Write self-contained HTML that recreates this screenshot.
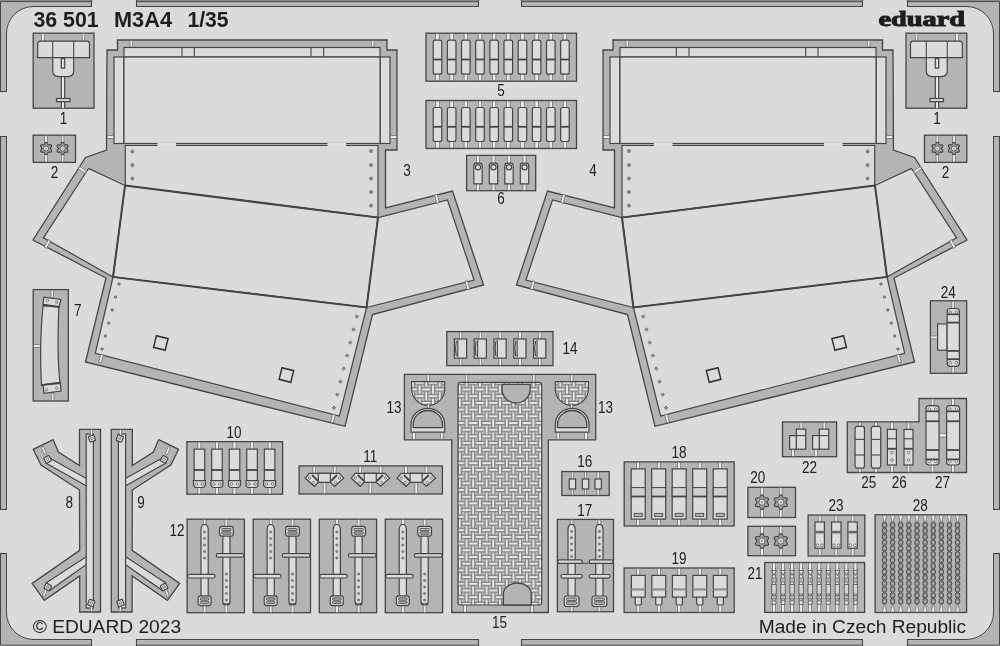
<!DOCTYPE html><html><head><meta charset="utf-8"><style>html,body{margin:0;padding:0;background:#d9dcdb;overflow:hidden}svg{display:block}
text{font-family:"Liberation Sans",sans-serif;fill:#1e1e1e}
.fr{fill:#b3b5b4;stroke:#454545;stroke-width:1}
.car{fill:#b3b5b4;stroke:#454545;stroke-width:1.3}
.prt{fill:#d9dcdb;stroke:#454545;stroke-width:1.2}.prt2{fill:#d9dcdb;stroke:#454545;stroke-width:1.2}.fold{fill:none;stroke:#454545;stroke-width:2}
.prt3{fill:#cfcfcf;stroke:#454545;stroke-width:1}
.ln{stroke:#454545;stroke-width:1.1;fill:none}.thk{stroke:#454545;stroke-width:1.8}
.wl{stroke:#ececec;stroke-width:1.4}.gt2{fill:#e2e4e3;stroke:none}
.gt{fill:#ececec;stroke:#5a5a5a;stroke-width:0.6}
.dk{fill:#8f8f8f;stroke:none}.dk2{fill:#6a6a6a;stroke:none}.slot{fill:#b8b8b8;stroke:#454545;stroke-width:0.9}
.rv{fill:#8c8c8c;stroke:#5a5a5a;stroke-width:0.6}.rvo{fill:#9a9a9a;stroke:#555;stroke-width:0.7}.hole{fill:#f0f0f0;stroke:#555;stroke-width:0.7}
.sq{fill:none;stroke:#333;stroke-width:1.5}
.gear{fill:#a0a0a0;stroke:#444;stroke-width:1.1}.gring{fill:#e4e4e4;stroke:#555;stroke-width:0.9}.gdot{fill:#999}
.mesh{fill:url(#mesh);stroke:#454545;stroke-width:1.1}
.eye{fill:#e0e0e0;stroke:#555;stroke-width:0.8}.eye2{fill:#b8b8b8;stroke:#555;stroke-width:0.7}.eye3{fill:#d4d4d4;stroke:#555;stroke-width:0.8}.thin{stroke:#666;stroke-width:0.6}.linkc{fill:#c8c8c8}.link{fill:#8e8e8e;stroke:#444;stroke-width:0.9}
</style></head><body>
<svg width="1000" height="646" viewBox="0 0 1000 646">
<defs><pattern id="mesh" x="466.5" y="456.5" width="13.4" height="13.4" patternUnits="userSpaceOnUse"><rect width="13.4" height="13.4" fill="#858585"/><circle cx="3.35" cy="3.35" r="2.05" fill="#bababa" stroke="#5a5a5a" stroke-width="0.5"/><circle cx="3.35" cy="10.05" r="2.05" fill="#bababa" stroke="#5a5a5a" stroke-width="0.5"/><circle cx="10.05" cy="3.35" r="2.05" fill="#bababa" stroke="#5a5a5a" stroke-width="0.5"/><circle cx="10.05" cy="10.05" r="2.05" fill="#bababa" stroke="#5a5a5a" stroke-width="0.5"/><rect x="-4.25" y="-0.85" width="8.5" height="1.7" fill="#f4f4f4"/><rect x="-4.25" y="12.55" width="8.5" height="1.7" fill="#f4f4f4"/><rect x="9.15" y="-0.85" width="8.5" height="1.7" fill="#f4f4f4"/><rect x="9.15" y="12.55" width="8.5" height="1.7" fill="#f4f4f4"/><rect x="2.45" y="5.85" width="8.5" height="1.7" fill="#f4f4f4"/><rect x="5.85" y="-4.25" width="1.7" height="8.5" fill="#f4f4f4"/><rect x="5.85" y="9.15" width="1.7" height="8.5" fill="#f4f4f4"/><rect x="-0.85" y="2.45" width="1.7" height="8.5" fill="#f4f4f4"/><rect x="12.55" y="2.45" width="1.7" height="8.5" fill="#f4f4f4"/></pattern></defs>
<rect width="1000" height="646" fill="#d9dcdb"/>
<rect x="0" y="0" width="1000" height="1.2" fill="#8a8a8a"/>
<path class="fr" fill-rule="evenodd" d="M0.5,1.6H999.5V645.2H0.5Z M33,6.5 H967 A27,27 0 0 1 993.5,33.5 V612 A27,27 0 0 1 967,639.5 H33 A27,27 0 0 1 6.5,612 V33.5 A27,27 0 0 1 33,6.5Z"/>
<rect x="91" y="-1" width="46" height="9" fill="#d9dcdb"/>
<rect x="91" y="638" width="46" height="10" fill="#d9dcdb"/>
<line class="ln" x1="91.5" y1="0" x2="91.5" y2="7" />
<line class="ln" x1="91.5" y1="639" x2="91.5" y2="646" />
<line class="ln" x1="136.5" y1="0" x2="136.5" y2="7" />
<line class="ln" x1="136.5" y1="639" x2="136.5" y2="646" />
<rect x="478" y="-1" width="44" height="9" fill="#d9dcdb"/>
<rect x="478" y="638" width="44" height="10" fill="#d9dcdb"/>
<line class="ln" x1="478.5" y1="0" x2="478.5" y2="7" />
<line class="ln" x1="478.5" y1="639" x2="478.5" y2="646" />
<line class="ln" x1="521.5" y1="0" x2="521.5" y2="7" />
<line class="ln" x1="521.5" y1="639" x2="521.5" y2="646" />
<rect x="862" y="-1" width="46" height="9" fill="#d9dcdb"/>
<rect x="862" y="638" width="46" height="10" fill="#d9dcdb"/>
<line class="ln" x1="862.5" y1="0" x2="862.5" y2="7" />
<line class="ln" x1="862.5" y1="639" x2="862.5" y2="646" />
<line class="ln" x1="907.5" y1="0" x2="907.5" y2="7" />
<line class="ln" x1="907.5" y1="639" x2="907.5" y2="646" />
<rect x="-1" y="91" width="8" height="46" fill="#d9dcdb"/>
<rect x="993" y="91" width="8" height="46" fill="#d9dcdb"/>
<line class="ln" x1="0" y1="91.5" x2="7" y2="91.5" />
<line class="ln" x1="993" y1="91.5" x2="1000" y2="91.5" />
<line class="ln" x1="0" y1="136.5" x2="7" y2="136.5" />
<line class="ln" x1="993" y1="136.5" x2="1000" y2="136.5" />
<rect x="-1" y="509" width="8" height="45" fill="#d9dcdb"/>
<rect x="993" y="509" width="8" height="45" fill="#d9dcdb"/>
<line class="ln" x1="0" y1="509.5" x2="7" y2="509.5" />
<line class="ln" x1="993" y1="509.5" x2="1000" y2="509.5" />
<line class="ln" x1="0" y1="553.5" x2="7" y2="553.5" />
<line class="ln" x1="993" y1="553.5" x2="1000" y2="553.5" />
<rect class="car" x="33.2" y="33.2" width="60.8" height="75" />
<rect class="gt" x="41.7" y="33.5" width="2.6" height="8.5" />
<rect class="gt" x="82.2" y="33.5" width="2.6" height="8.5" />
<path class="prt" d="M37.7,57.7 V44 Q37.7,41.2 40.5,41.2 H86.7 Q89.5,41.2 89.5,44 V57.7 Z" />
<line class="ln" x1="52.7" y1="41.2" x2="52.7" y2="57.7" />
<line class="ln" x1="73.7" y1="41.2" x2="73.7" y2="57.7" />
<rect class="gt" x="61.4" y="76" width="3.2" height="32.2" />
<line class="ln" x1="61.3" y1="77" x2="61.3" y2="108" />
<line class="ln" x1="64.7" y1="77" x2="64.7" y2="108" />
<rect class="prt" x="56.5" y="98.5" width="13.5" height="3.1" />
<path class="prt" d="M52.7,57.7 H73.7 V71 Q73.7,76.7 67,76.7 H59.4 Q52.7,76.7 52.7,71 Z" />
<rect class="prt" x="61.3" y="58.5" width="3.4" height="9.5" />
<g transform="translate(1000,0) scale(-1,1)"><rect class="car" x="33.2" y="33.2" width="60.8" height="75" />
<rect class="gt" x="41.7" y="33.5" width="2.6" height="8.5" />
<rect class="gt" x="82.2" y="33.5" width="2.6" height="8.5" />
<path class="prt" d="M37.7,57.7 V44 Q37.7,41.2 40.5,41.2 H86.7 Q89.5,41.2 89.5,44 V57.7 Z" />
<line class="ln" x1="52.7" y1="41.2" x2="52.7" y2="57.7" />
<line class="ln" x1="73.7" y1="41.2" x2="73.7" y2="57.7" />
<rect class="gt" x="61.4" y="76" width="3.2" height="32.2" />
<line class="ln" x1="61.3" y1="77" x2="61.3" y2="108" />
<line class="ln" x1="64.7" y1="77" x2="64.7" y2="108" />
<rect class="prt" x="56.5" y="98.5" width="13.5" height="3.1" />
<path class="prt" d="M52.7,57.7 H73.7 V71 Q73.7,76.7 67,76.7 H59.4 Q52.7,76.7 52.7,71 Z" />
<rect class="prt" x="61.3" y="58.5" width="3.4" height="9.5" /></g>
<rect class="car" x="33.2" y="135.2" width="42.3" height="27.2" />
<rect class="gt" x="44.8" y="135.6" width="2.6" height="26.4" />
<polygon class="gear" points="46.1,142.3 46.87,142.64 47.45,143.47 47.82,144.34 48.21,144.85 48.84,144.92 49.78,144.82 50.79,144.9 51.47,145.4 51.56,146.24 51.13,147.15 50.57,147.91 50.32,148.5 50.57,149.09 51.13,149.85 51.56,150.76 51.47,151.6 50.79,152.1 49.78,152.18 48.84,152.08 48.21,152.15 47.82,152.66 47.45,153.53 46.87,154.36 46.1,154.7 45.33,154.36 44.75,153.53 44.38,152.66 43.99,152.15 43.36,152.08 42.42,152.18 41.41,152.1 40.73,151.6 40.64,150.76 41.07,149.85 41.63,149.09 41.88,148.5 41.63,147.91 41.07,147.15 40.64,146.24 40.73,145.4 41.41,144.9 42.42,144.82 43.36,144.92 43.99,144.85 44.38,144.34 44.75,143.47 45.33,142.64" /><circle class="gring" cx="46.1" cy="148.5" r="2.6"/><circle class="gdot" cx="46.1" cy="148.5" r="0.99"/>
<rect class="gt" x="61.3" y="135.6" width="2.6" height="26.4" />
<polygon class="gear" points="62.6,142.3 63.37,142.64 63.95,143.47 64.32,144.34 64.71,144.85 65.34,144.92 66.28,144.82 67.29,144.9 67.97,145.4 68.06,146.24 67.63,147.15 67.07,147.91 66.82,148.5 67.07,149.09 67.63,149.85 68.06,150.76 67.97,151.6 67.29,152.1 66.28,152.18 65.34,152.08 64.71,152.15 64.32,152.66 63.95,153.53 63.37,154.36 62.6,154.7 61.83,154.36 61.25,153.53 60.88,152.66 60.49,152.15 59.86,152.08 58.92,152.18 57.91,152.1 57.23,151.6 57.14,150.76 57.57,149.85 58.13,149.09 58.38,148.5 58.13,147.91 57.57,147.15 57.14,146.24 57.23,145.4 57.91,144.9 58.92,144.82 59.86,144.92 60.49,144.85 60.88,144.34 61.25,143.47 61.83,142.64" /><circle class="gring" cx="62.6" cy="148.5" r="2.6"/><circle class="gdot" cx="62.6" cy="148.5" r="0.99"/>
<g transform="translate(1000,0) scale(-1,1)"><rect class="car" x="33.2" y="135.2" width="42.3" height="27.2" />
<rect class="gt" x="44.8" y="135.6" width="2.6" height="26.4" />
<polygon class="gear" points="46.1,142.3 46.87,142.64 47.45,143.47 47.82,144.34 48.21,144.85 48.84,144.92 49.78,144.82 50.79,144.9 51.47,145.4 51.56,146.24 51.13,147.15 50.57,147.91 50.32,148.5 50.57,149.09 51.13,149.85 51.56,150.76 51.47,151.6 50.79,152.1 49.78,152.18 48.84,152.08 48.21,152.15 47.82,152.66 47.45,153.53 46.87,154.36 46.1,154.7 45.33,154.36 44.75,153.53 44.38,152.66 43.99,152.15 43.36,152.08 42.42,152.18 41.41,152.1 40.73,151.6 40.64,150.76 41.07,149.85 41.63,149.09 41.88,148.5 41.63,147.91 41.07,147.15 40.64,146.24 40.73,145.4 41.41,144.9 42.42,144.82 43.36,144.92 43.99,144.85 44.38,144.34 44.75,143.47 45.33,142.64" /><circle class="gring" cx="46.1" cy="148.5" r="2.6"/><circle class="gdot" cx="46.1" cy="148.5" r="0.99"/>
<rect class="gt" x="61.3" y="135.6" width="2.6" height="26.4" />
<polygon class="gear" points="62.6,142.3 63.37,142.64 63.95,143.47 64.32,144.34 64.71,144.85 65.34,144.92 66.28,144.82 67.29,144.9 67.97,145.4 68.06,146.24 67.63,147.15 67.07,147.91 66.82,148.5 67.07,149.09 67.63,149.85 68.06,150.76 67.97,151.6 67.29,152.1 66.28,152.18 65.34,152.08 64.71,152.15 64.32,152.66 63.95,153.53 63.37,154.36 62.6,154.7 61.83,154.36 61.25,153.53 60.88,152.66 60.49,152.15 59.86,152.08 58.92,152.18 57.91,152.1 57.23,151.6 57.14,150.76 57.57,149.85 58.13,149.09 58.38,148.5 58.13,147.91 57.57,147.15 57.14,146.24 57.23,145.4 57.91,144.9 58.92,144.82 59.86,144.92 60.49,144.85 60.88,144.34 61.25,143.47 61.83,142.64" /><circle class="gring" cx="62.6" cy="148.5" r="2.6"/><circle class="gdot" cx="62.6" cy="148.5" r="0.99"/></g>
<polygon class="car" points="107,50 117.5,50 117.5,40 387,40 387,50 397,50 397,150 385.5,150 385.5,208 452.5,191 483.5,285 372.5,314.5 345,426.3 85.5,362 106,278 33,240 85.5,157.5 106.5,150" />
<rect class="prt" x="124" y="47.5" width="256" height="9.5" />
<rect class="prt" x="114" y="57" width="10" height="86.5" />
<rect class="prt" x="380" y="57" width="10" height="86.5" />
<rect class="prt" x="124" y="57" width="256" height="86.5" />
<line class="ln" x1="182" y1="47.5" x2="182" y2="57" />
<line class="ln" x1="194.3" y1="47.5" x2="194.3" y2="57" />
<line class="ln" x1="311" y1="47.5" x2="311" y2="57" />
<line class="ln" x1="323.7" y1="47.5" x2="323.7" y2="57" />
<polygon class="prt" points="125.3,145.5 378,145.5 378,217.6 125.3,185.5" />
<polygon class="prt2" points="125,185.5 378,217.6 366.6,307.5 113,277" />
<polygon class="prt" points="113,277 366.6,307.5 339.4,416 95.3,353.4" />
<polygon class="prt" points="88.5,168.4 125,185.5 113,277 43.4,237.8" />
<polygon class="prt" points="378,217.6 447.5,200 474.2,280.2 366.6,307.5" />
<polygon class="fold" points="125,185.5 378,217.6 366.6,307.5 113,277" />
<rect class="gt" x="130" y="40.45" width="2.6" height="6.5" transform="rotate(0 131.3 43.7)"/>
<rect class="gt" x="371.4" y="40.45" width="2.6" height="6.5" transform="rotate(0 372.7 43.7)"/>
<rect class="gt" x="107.25" y="135.7" width="6.5" height="2.6" transform="rotate(0 110.5 137)"/>
<rect class="gt" x="390.25" y="135.7" width="6.5" height="2.6" transform="rotate(0 393.5 137)"/>
<rect class="gt" x="81.2" y="165.75" width="2.6" height="8.5" transform="rotate(-57.5 82.5 170)"/>
<rect class="gt" x="46.2" y="239.75" width="2.6" height="8.5" transform="rotate(27.5 47.5 244)"/>
<rect class="gt" x="435.7" y="194.55" width="2.6" height="8.5" transform="rotate(-14 437 198.8)"/>
<rect class="gt" x="466" y="280.95" width="2.6" height="8.5" transform="rotate(-15 467.3 285.2)"/>
<rect class="gt" x="99.7" y="354.25" width="2.6" height="8.5" transform="rotate(14 101 358.5)"/>
<rect class="gt" x="331.7" y="414.25" width="2.6" height="8.5" transform="rotate(14 333 418.5)"/>
<rect class="gt2" x="157.5" y="143" width="18.5" height="3" />
<rect class="gt2" x="327.5" y="143" width="18.5" height="3" />
<circle class="rv" cx="132.4" cy="151.5" r="1.55"/>
<circle class="rv" cx="132.4" cy="165" r="1.55"/>
<circle class="rv" cx="132.4" cy="178.5" r="1.55"/>
<circle class="rv" cx="371" cy="151" r="1.55"/>
<circle class="rv" cx="371" cy="165" r="1.55"/>
<circle class="rv" cx="371" cy="178.5" r="1.55"/>
<circle class="rv" cx="371" cy="192" r="1.55"/>
<circle class="rv" cx="371" cy="205.6" r="1.55"/>
<circle class="rv" cx="119" cy="284" r="1.3"/>
<circle class="rv" cx="115.6" cy="297" r="1.3"/>
<circle class="rv" cx="112.2" cy="310" r="1.3"/>
<circle class="rv" cx="108.8" cy="323" r="1.3"/>
<circle class="rv" cx="105.4" cy="336" r="1.3"/>
<circle class="rv" cx="102" cy="349" r="1.3"/>
<rect class="rvo" x="-1.2" y="-1.2" width="2.4" height="2.4" transform="translate(356.8 316.5) rotate(45)"/>
<rect class="rvo" x="-1.2" y="-1.2" width="2.4" height="2.4" transform="translate(353.54 329.53) rotate(45)"/>
<rect class="rvo" x="-1.2" y="-1.2" width="2.4" height="2.4" transform="translate(350.29 342.56) rotate(45)"/>
<rect class="rvo" x="-1.2" y="-1.2" width="2.4" height="2.4" transform="translate(347.03 355.59) rotate(45)"/>
<rect class="rvo" x="-1.2" y="-1.2" width="2.4" height="2.4" transform="translate(343.77 368.61) rotate(45)"/>
<rect class="rvo" x="-1.2" y="-1.2" width="2.4" height="2.4" transform="translate(340.51 381.64) rotate(45)"/>
<rect class="rvo" x="-1.2" y="-1.2" width="2.4" height="2.4" transform="translate(337.26 394.67) rotate(45)"/>
<rect class="rvo" x="-1.2" y="-1.2" width="2.4" height="2.4" transform="translate(334 407.7) rotate(45)"/>
<rect class="sq" x="154.8" y="337" width="12" height="12" transform="rotate(14 160.8 343)"/>
<rect class="sq" x="280.4" y="369" width="12" height="12" transform="rotate(14 286.4 375)"/>
<g transform="translate(1000,0) scale(-1,1)"><polygon class="car" points="107,50 117.5,50 117.5,40 387,40 387,50 397,50 397,150 385.5,150 385.5,208 452.5,191 483.5,285 372.5,314.5 345,426.3 85.5,362 106,278 33,240 85.5,157.5 106.5,150" />
<rect class="prt" x="124" y="47.5" width="256" height="9.5" />
<rect class="prt" x="114" y="57" width="10" height="86.5" />
<rect class="prt" x="380" y="57" width="10" height="86.5" />
<rect class="prt" x="124" y="57" width="256" height="86.5" />
<line class="ln" x1="182" y1="47.5" x2="182" y2="57" />
<line class="ln" x1="194.3" y1="47.5" x2="194.3" y2="57" />
<line class="ln" x1="311" y1="47.5" x2="311" y2="57" />
<line class="ln" x1="323.7" y1="47.5" x2="323.7" y2="57" />
<polygon class="prt" points="125.3,145.5 378,145.5 378,217.6 125.3,185.5" />
<polygon class="prt2" points="125,185.5 378,217.6 366.6,307.5 113,277" />
<polygon class="prt" points="113,277 366.6,307.5 339.4,416 95.3,353.4" />
<polygon class="prt" points="88.5,168.4 125,185.5 113,277 43.4,237.8" />
<polygon class="prt" points="378,217.6 447.5,200 474.2,280.2 366.6,307.5" />
<polygon class="fold" points="125,185.5 378,217.6 366.6,307.5 113,277" />
<rect class="gt" x="130" y="40.45" width="2.6" height="6.5" transform="rotate(0 131.3 43.7)"/>
<rect class="gt" x="371.4" y="40.45" width="2.6" height="6.5" transform="rotate(0 372.7 43.7)"/>
<rect class="gt" x="107.25" y="135.7" width="6.5" height="2.6" transform="rotate(0 110.5 137)"/>
<rect class="gt" x="390.25" y="135.7" width="6.5" height="2.6" transform="rotate(0 393.5 137)"/>
<rect class="gt" x="81.2" y="165.75" width="2.6" height="8.5" transform="rotate(-57.5 82.5 170)"/>
<rect class="gt" x="46.2" y="239.75" width="2.6" height="8.5" transform="rotate(27.5 47.5 244)"/>
<rect class="gt" x="435.7" y="194.55" width="2.6" height="8.5" transform="rotate(-14 437 198.8)"/>
<rect class="gt" x="466" y="280.95" width="2.6" height="8.5" transform="rotate(-15 467.3 285.2)"/>
<rect class="gt" x="99.7" y="354.25" width="2.6" height="8.5" transform="rotate(14 101 358.5)"/>
<rect class="gt" x="331.7" y="414.25" width="2.6" height="8.5" transform="rotate(14 333 418.5)"/>
<rect class="gt2" x="157.5" y="143" width="18.5" height="3" />
<rect class="gt2" x="327.5" y="143" width="18.5" height="3" />
<circle class="rv" cx="132.4" cy="151.5" r="1.55"/>
<circle class="rv" cx="132.4" cy="165" r="1.55"/>
<circle class="rv" cx="132.4" cy="178.5" r="1.55"/>
<circle class="rv" cx="371" cy="151" r="1.55"/>
<circle class="rv" cx="371" cy="165" r="1.55"/>
<circle class="rv" cx="371" cy="178.5" r="1.55"/>
<circle class="rv" cx="371" cy="192" r="1.55"/>
<circle class="rv" cx="371" cy="205.6" r="1.55"/>
<circle class="rv" cx="119" cy="284" r="1.3"/>
<circle class="rv" cx="115.6" cy="297" r="1.3"/>
<circle class="rv" cx="112.2" cy="310" r="1.3"/>
<circle class="rv" cx="108.8" cy="323" r="1.3"/>
<circle class="rv" cx="105.4" cy="336" r="1.3"/>
<circle class="rv" cx="102" cy="349" r="1.3"/>
<rect class="rvo" x="-1.2" y="-1.2" width="2.4" height="2.4" transform="translate(356.8 316.5) rotate(45)"/>
<rect class="rvo" x="-1.2" y="-1.2" width="2.4" height="2.4" transform="translate(353.54 329.53) rotate(45)"/>
<rect class="rvo" x="-1.2" y="-1.2" width="2.4" height="2.4" transform="translate(350.29 342.56) rotate(45)"/>
<rect class="rvo" x="-1.2" y="-1.2" width="2.4" height="2.4" transform="translate(347.03 355.59) rotate(45)"/>
<rect class="rvo" x="-1.2" y="-1.2" width="2.4" height="2.4" transform="translate(343.77 368.61) rotate(45)"/>
<rect class="rvo" x="-1.2" y="-1.2" width="2.4" height="2.4" transform="translate(340.51 381.64) rotate(45)"/>
<rect class="rvo" x="-1.2" y="-1.2" width="2.4" height="2.4" transform="translate(337.26 394.67) rotate(45)"/>
<rect class="rvo" x="-1.2" y="-1.2" width="2.4" height="2.4" transform="translate(334 407.7) rotate(45)"/>
<rect class="sq" x="154.8" y="337" width="12" height="12" transform="rotate(14 160.8 343)"/>
<rect class="sq" x="280.4" y="369" width="12" height="12" transform="rotate(14 286.4 375)"/></g>
<rect class="car" x="426" y="33.2" width="150.5" height="48" />
<rect class="gt" x="435.8" y="33.7" width="3.4" height="7.5" />
<rect class="gt" x="435.8" y="73.2" width="3.4" height="7.5" />
<rect class="prt" x="433.2" y="40.2" width="8.6" height="34" rx="2" />
<line class="thk" x1="433.2" y1="59.5" x2="441.8" y2="59.5" />
<rect class="gt" x="449.96" y="33.7" width="3.4" height="7.5" />
<rect class="gt" x="449.96" y="73.2" width="3.4" height="7.5" />
<rect class="prt" x="447.36" y="40.2" width="8.6" height="34" rx="2" />
<line class="thk" x1="447.36" y1="59.5" x2="455.96" y2="59.5" />
<rect class="gt" x="464.12" y="33.7" width="3.4" height="7.5" />
<rect class="gt" x="464.12" y="73.2" width="3.4" height="7.5" />
<rect class="prt" x="461.52" y="40.2" width="8.6" height="34" rx="2" />
<line class="thk" x1="461.52" y1="59.5" x2="470.12" y2="59.5" />
<rect class="gt" x="478.28" y="33.7" width="3.4" height="7.5" />
<rect class="gt" x="478.28" y="73.2" width="3.4" height="7.5" />
<rect class="prt" x="475.68" y="40.2" width="8.6" height="34" rx="2" />
<line class="thk" x1="475.68" y1="59.5" x2="484.28" y2="59.5" />
<rect class="gt" x="492.44" y="33.7" width="3.4" height="7.5" />
<rect class="gt" x="492.44" y="73.2" width="3.4" height="7.5" />
<rect class="prt" x="489.84" y="40.2" width="8.6" height="34" rx="2" />
<line class="thk" x1="489.84" y1="59.5" x2="498.44" y2="59.5" />
<rect class="gt" x="506.6" y="33.7" width="3.4" height="7.5" />
<rect class="gt" x="506.6" y="73.2" width="3.4" height="7.5" />
<rect class="prt" x="504" y="40.2" width="8.6" height="34" rx="2" />
<line class="thk" x1="504" y1="59.5" x2="512.6" y2="59.5" />
<rect class="gt" x="520.76" y="33.7" width="3.4" height="7.5" />
<rect class="gt" x="520.76" y="73.2" width="3.4" height="7.5" />
<rect class="prt" x="518.16" y="40.2" width="8.6" height="34" rx="2" />
<line class="thk" x1="518.16" y1="59.5" x2="526.76" y2="59.5" />
<rect class="gt" x="534.92" y="33.7" width="3.4" height="7.5" />
<rect class="gt" x="534.92" y="73.2" width="3.4" height="7.5" />
<rect class="prt" x="532.32" y="40.2" width="8.6" height="34" rx="2" />
<line class="thk" x1="532.32" y1="59.5" x2="540.92" y2="59.5" />
<rect class="gt" x="549.08" y="33.7" width="3.4" height="7.5" />
<rect class="gt" x="549.08" y="73.2" width="3.4" height="7.5" />
<rect class="prt" x="546.48" y="40.2" width="8.6" height="34" rx="2" />
<line class="thk" x1="546.48" y1="59.5" x2="555.08" y2="59.5" />
<rect class="gt" x="563.24" y="33.7" width="3.4" height="7.5" />
<rect class="gt" x="563.24" y="73.2" width="3.4" height="7.5" />
<rect class="prt" x="560.64" y="40.2" width="8.6" height="34" rx="2" />
<line class="thk" x1="560.64" y1="59.5" x2="569.24" y2="59.5" />
<rect class="car" x="426" y="100.5" width="150.5" height="48" />
<rect class="gt" x="435.8" y="101" width="3.4" height="7.5" />
<rect class="gt" x="435.8" y="140.5" width="3.4" height="7.5" />
<rect class="prt" x="433.2" y="107.5" width="8.6" height="34" rx="2" />
<line class="thk" x1="433.2" y1="126.8" x2="441.8" y2="126.8" />
<rect class="gt" x="449.96" y="101" width="3.4" height="7.5" />
<rect class="gt" x="449.96" y="140.5" width="3.4" height="7.5" />
<rect class="prt" x="447.36" y="107.5" width="8.6" height="34" rx="2" />
<line class="thk" x1="447.36" y1="126.8" x2="455.96" y2="126.8" />
<rect class="gt" x="464.12" y="101" width="3.4" height="7.5" />
<rect class="gt" x="464.12" y="140.5" width="3.4" height="7.5" />
<rect class="prt" x="461.52" y="107.5" width="8.6" height="34" rx="2" />
<line class="thk" x1="461.52" y1="126.8" x2="470.12" y2="126.8" />
<rect class="gt" x="478.28" y="101" width="3.4" height="7.5" />
<rect class="gt" x="478.28" y="140.5" width="3.4" height="7.5" />
<rect class="prt" x="475.68" y="107.5" width="8.6" height="34" rx="2" />
<line class="thk" x1="475.68" y1="126.8" x2="484.28" y2="126.8" />
<rect class="gt" x="492.44" y="101" width="3.4" height="7.5" />
<rect class="gt" x="492.44" y="140.5" width="3.4" height="7.5" />
<rect class="prt" x="489.84" y="107.5" width="8.6" height="34" rx="2" />
<line class="thk" x1="489.84" y1="126.8" x2="498.44" y2="126.8" />
<rect class="gt" x="506.6" y="101" width="3.4" height="7.5" />
<rect class="gt" x="506.6" y="140.5" width="3.4" height="7.5" />
<rect class="prt" x="504" y="107.5" width="8.6" height="34" rx="2" />
<line class="thk" x1="504" y1="126.8" x2="512.6" y2="126.8" />
<rect class="gt" x="520.76" y="101" width="3.4" height="7.5" />
<rect class="gt" x="520.76" y="140.5" width="3.4" height="7.5" />
<rect class="prt" x="518.16" y="107.5" width="8.6" height="34" rx="2" />
<line class="thk" x1="518.16" y1="126.8" x2="526.76" y2="126.8" />
<rect class="gt" x="534.92" y="101" width="3.4" height="7.5" />
<rect class="gt" x="534.92" y="140.5" width="3.4" height="7.5" />
<rect class="prt" x="532.32" y="107.5" width="8.6" height="34" rx="2" />
<line class="thk" x1="532.32" y1="126.8" x2="540.92" y2="126.8" />
<rect class="gt" x="549.08" y="101" width="3.4" height="7.5" />
<rect class="gt" x="549.08" y="140.5" width="3.4" height="7.5" />
<rect class="prt" x="546.48" y="107.5" width="8.6" height="34" rx="2" />
<line class="thk" x1="546.48" y1="126.8" x2="555.08" y2="126.8" />
<rect class="gt" x="563.24" y="101" width="3.4" height="7.5" />
<rect class="gt" x="563.24" y="140.5" width="3.4" height="7.5" />
<rect class="prt" x="560.64" y="107.5" width="8.6" height="34" rx="2" />
<line class="thk" x1="560.64" y1="126.8" x2="569.24" y2="126.8" />
<rect class="car" x="466.6" y="155.4" width="69.1" height="35.3" />
<rect class="gt" x="476.5" y="155.8" width="3" height="34.5" />
<path class="prt" d="M473.8,166 Q473.8,163.2 476,163.2 H480 Q482.2,163.2 482.2,166 V183.8 H473.8 Z" />
<circle class="prt" cx="478" cy="167.2" r="2.6"/>
<rect class="gt" x="492" y="155.8" width="3" height="34.5" />
<path class="prt" d="M489.3,166 Q489.3,163.2 491.5,163.2 H495.5 Q497.7,163.2 497.7,166 V183.8 H489.3 Z" />
<circle class="prt" cx="493.5" cy="167.2" r="2.6"/>
<rect class="gt" x="507.5" y="155.8" width="3" height="34.5" />
<path class="prt" d="M504.8,166 Q504.8,163.2 507,163.2 H511 Q513.2,163.2 513.2,166 V183.8 H504.8 Z" />
<circle class="prt" cx="509" cy="167.2" r="2.6"/>
<rect class="gt" x="523" y="155.8" width="3" height="34.5" />
<path class="prt" d="M520.3,166 Q520.3,163.2 522.5,163.2 H526.5 Q528.7,163.2 528.7,166 V183.8 H520.3 Z" />
<circle class="prt" cx="524.5" cy="167.2" r="2.6"/>
<rect class="car" x="33.2" y="289.6" width="35.1" height="111.4" />
<rect class="gt" x="51" y="290" width="2.6" height="8" />
<rect class="gt" x="51.3" y="393" width="2.6" height="7.5" />
<rect class="gt" x="33.6" y="344.6" width="8.4" height="2.6" />
<path class="prt" d="M43,306 C40,335 40,360 41.5,385.7 L60,383.4 C57.5,360 57.5,335 59,306 Z" />
<path class="prt" d="M43.8,297.2 L61,299.4 L59,306.6 L43,304.4 Z" />
<path class="prt" d="M43,384.6 L60.3,382.4 L61,391 L44,393.3 Z" />
<circle class="hole" cx="47.4" cy="300.6" r="1.2"/>
<circle class="hole" cx="56.8" cy="302" r="1.2"/>
<circle class="hole" cx="46.5" cy="389.8" r="1.2"/>
<circle class="hole" cx="56.8" cy="388.2" r="1.2"/>
<line class="thk" x1="43" y1="305.2" x2="59" y2="307.2" />
<line class="thk" x1="41.8" y1="385.2" x2="60.2" y2="383" />
<polygon class="car" points="79.5,429.3 100.5,429.3 100.5,612 79.7,612 79.7,576 44.3,600.4 32.1,583.5 79.7,550.4 79.5,490 41,465.1 33.2,449.4 53.1,439.6 58.4,452.1 79.5,465.6" />
<polygon class="prt" points="48.6,457.5 86.5,478.5 86.5,486 45.8,463" />
<polygon class="prt" points="46,583 86.5,556.5 86.5,564.5 49.5,590.5" />
<rect class="prt" x="86.2" y="434" width="7.2" height="174" />
<rect class="gt" x="90.3" y="429.6" width="2.4" height="6.4" />
<rect class="gt" x="90.3" y="604" width="2.4" height="7.6" />
<rect class="gt" x="42.8" y="446.5" width="2.4" height="8" transform="rotate(-25 44 450.5)"/>
<rect class="gt" x="43.8" y="588" width="2.4" height="9" transform="rotate(20 45 592.5)"/>
<rect class="prt" x="-3" y="-3" width="6" height="6" rx="1" transform="translate(92 438.5) rotate(-20)"/>
<circle class="hole" cx="92" cy="438.5" r="1.2"/>
<rect class="prt" x="-3" y="-3" width="6" height="6" rx="1" transform="translate(47.6 459.3) rotate(-30)"/>
<circle class="hole" cx="47.6" cy="459.3" r="1.2"/>
<rect class="prt" x="-3" y="-3" width="6" height="6" rx="1" transform="translate(47.7 587) rotate(30)"/>
<circle class="hole" cx="47.7" cy="587" r="1.2"/>
<rect class="prt" x="-3" y="-3" width="6" height="6" rx="1" transform="translate(91.3 603) rotate(20)"/>
<circle class="hole" cx="91.3" cy="603" r="1.2"/>
<g transform="translate(211.8,0) scale(-1,1)"><polygon class="car" points="79.5,429.3 100.5,429.3 100.5,612 79.7,612 79.7,576 44.3,600.4 32.1,583.5 79.7,550.4 79.5,490 41,465.1 33.2,449.4 53.1,439.6 58.4,452.1 79.5,465.6" />
<polygon class="prt" points="48.6,457.5 86.5,478.5 86.5,486 45.8,463" />
<polygon class="prt" points="46,583 86.5,556.5 86.5,564.5 49.5,590.5" />
<rect class="prt" x="86.2" y="434" width="7.2" height="174" />
<rect class="gt" x="90.3" y="429.6" width="2.4" height="6.4" />
<rect class="gt" x="90.3" y="604" width="2.4" height="7.6" />
<rect class="gt" x="42.8" y="446.5" width="2.4" height="8" transform="rotate(-25 44 450.5)"/>
<rect class="gt" x="43.8" y="588" width="2.4" height="9" transform="rotate(20 45 592.5)"/>
<rect class="prt" x="-3" y="-3" width="6" height="6" rx="1" transform="translate(92 438.5) rotate(-20)"/>
<circle class="hole" cx="92" cy="438.5" r="1.2"/>
<rect class="prt" x="-3" y="-3" width="6" height="6" rx="1" transform="translate(47.6 459.3) rotate(-30)"/>
<circle class="hole" cx="47.6" cy="459.3" r="1.2"/>
<rect class="prt" x="-3" y="-3" width="6" height="6" rx="1" transform="translate(47.7 587) rotate(30)"/>
<circle class="hole" cx="47.7" cy="587" r="1.2"/>
<rect class="prt" x="-3" y="-3" width="6" height="6" rx="1" transform="translate(91.3 603) rotate(20)"/>
<circle class="hole" cx="91.3" cy="603" r="1.2"/></g>
<rect class="car" x="186.9" y="441.7" width="95.7" height="52.5" />
<rect class="gt" x="197.9" y="442" width="3" height="7.5" />
<rect class="gt" x="197.9" y="486" width="3" height="8" />
<rect class="prt" x="194.1" y="449.1" width="10.6" height="31.6" />
<line class="thk" x1="194.1" y1="470" x2="204.7" y2="470" />
<path class="prt" d="M193.4,480.7 H205.4 V484 Q205.4,487.5 202.4,487.5 H196.4 Q193.4,487.5 193.4,484 Z" />
<circle class="hole" cx="196.4" cy="484" r="1.3"/>
<circle class="hole" cx="202.4" cy="484" r="1.3"/>
<rect class="gt" x="215.45" y="442" width="3" height="7.5" />
<rect class="gt" x="215.45" y="486" width="3" height="8" />
<rect class="prt" x="211.65" y="449.1" width="10.6" height="31.6" />
<line class="thk" x1="211.65" y1="470" x2="222.25" y2="470" />
<path class="prt" d="M210.95,480.7 H222.95 V484 Q222.95,487.5 219.95,487.5 H213.95 Q210.95,487.5 210.95,484 Z" />
<circle class="hole" cx="213.95" cy="484" r="1.3"/>
<circle class="hole" cx="219.95" cy="484" r="1.3"/>
<rect class="gt" x="233" y="442" width="3" height="7.5" />
<rect class="gt" x="233" y="486" width="3" height="8" />
<rect class="prt" x="229.2" y="449.1" width="10.6" height="31.6" />
<line class="thk" x1="229.2" y1="470" x2="239.8" y2="470" />
<path class="prt" d="M228.5,480.7 H240.5 V484 Q240.5,487.5 237.5,487.5 H231.5 Q228.5,487.5 228.5,484 Z" />
<circle class="hole" cx="231.5" cy="484" r="1.3"/>
<circle class="hole" cx="237.5" cy="484" r="1.3"/>
<rect class="gt" x="250.55" y="442" width="3" height="7.5" />
<rect class="gt" x="250.55" y="486" width="3" height="8" />
<rect class="prt" x="246.75" y="449.1" width="10.6" height="31.6" />
<line class="thk" x1="246.75" y1="470" x2="257.35" y2="470" />
<path class="prt" d="M246.05,480.7 H258.05 V484 Q258.05,487.5 255.05,487.5 H249.05 Q246.05,487.5 246.05,484 Z" />
<circle class="hole" cx="249.05" cy="484" r="1.3"/>
<circle class="hole" cx="255.05" cy="484" r="1.3"/>
<rect class="gt" x="268.1" y="442" width="3" height="7.5" />
<rect class="gt" x="268.1" y="486" width="3" height="8" />
<rect class="prt" x="264.3" y="449.1" width="10.6" height="31.6" />
<line class="thk" x1="264.3" y1="470" x2="274.9" y2="470" />
<path class="prt" d="M263.6,480.7 H275.6 V484 Q275.6,487.5 272.6,487.5 H266.6 Q263.6,487.5 263.6,484 Z" />
<circle class="hole" cx="266.6" cy="484" r="1.3"/>
<circle class="hole" cx="272.6" cy="484" r="1.3"/>
<rect class="car" x="299.1" y="465.9" width="143.3" height="28.1" />
<rect class="gt" x="312.9" y="466.3" width="2.8" height="7.7" />
<rect class="gt" x="333.3" y="466.3" width="2.8" height="7.7" />
<rect class="gt" x="323.1" y="482" width="2.8" height="11.6" />
<polygon class="prt" points="309.3,473.3 339.3,473.3 343.7,478.2 334.7,486.3 330.4,482.3 318.3,482.3 314.3,486.3 305.3,478.2" />
<rect class="prt" x="318.3" y="473.3" width="12.1" height="9" />
<line class="thk" x1="312" y1="475" x2="318" y2="481" />
<line class="thk" x1="337" y1="475" x2="331" y2="481" />
<circle class="hole" cx="309.5" cy="478" r="1.2"/>
<circle class="hole" cx="313.5" cy="482.5" r="1.2"/>
<circle class="hole" cx="339.5" cy="478" r="1.2"/>
<circle class="hole" cx="335.5" cy="482.5" r="1.2"/>
<rect class="gt" x="358.8" y="466.3" width="2.8" height="7.7" />
<rect class="gt" x="379.2" y="466.3" width="2.8" height="7.7" />
<rect class="gt" x="369" y="482" width="2.8" height="11.6" />
<polygon class="prt" points="355.2,473.3 385.2,473.3 389.6,478.2 380.6,486.3 376.3,482.3 364.2,482.3 360.2,486.3 351.2,478.2" />
<rect class="prt" x="364.2" y="473.3" width="12.1" height="9" />
<line class="thk" x1="357.9" y1="475" x2="363.9" y2="481" />
<line class="thk" x1="382.9" y1="475" x2="376.9" y2="481" />
<circle class="hole" cx="355.4" cy="478" r="1.2"/>
<circle class="hole" cx="359.4" cy="482.5" r="1.2"/>
<circle class="hole" cx="385.4" cy="478" r="1.2"/>
<circle class="hole" cx="381.4" cy="482.5" r="1.2"/>
<rect class="gt" x="404.7" y="466.3" width="2.8" height="7.7" />
<rect class="gt" x="425.1" y="466.3" width="2.8" height="7.7" />
<rect class="gt" x="414.9" y="482" width="2.8" height="11.6" />
<polygon class="prt" points="401.1,473.3 431.1,473.3 435.5,478.2 426.5,486.3 422.2,482.3 410.1,482.3 406.1,486.3 397.1,478.2" />
<rect class="prt" x="410.1" y="473.3" width="12.1" height="9" />
<line class="thk" x1="403.8" y1="475" x2="409.8" y2="481" />
<line class="thk" x1="428.8" y1="475" x2="422.8" y2="481" />
<circle class="hole" cx="401.3" cy="478" r="1.2"/>
<circle class="hole" cx="405.3" cy="482.5" r="1.2"/>
<circle class="hole" cx="431.3" cy="478" r="1.2"/>
<circle class="hole" cx="427.3" cy="482.5" r="1.2"/>
<rect class="car" x="187.1" y="519.2" width="57.3" height="93.5" />
<rect class="gt" x="203.2" y="519.5" width="2.8" height="7.5" />
<rect class="gt" x="203.2" y="605" width="2.8" height="7.4" />
<rect class="gt" x="225" y="519.5" width="2.8" height="7.5" />
<rect class="gt" x="225" y="603" width="2.8" height="9.4" />
<path class="prt" d="M201,529.5 Q201.2,524.5 204.6,524.5 Q208,524.5 208.2,529.5 V595 Q208.2,597 204.6,597 Q201,597 201,595 Z" />
<circle class="rv" cx="204.6" cy="532" r="1.1"/>
<circle class="rv" cx="204.6" cy="538.5" r="1.1"/>
<circle class="rv" cx="204.6" cy="545" r="1.1"/>
<circle class="rv" cx="204.6" cy="551.5" r="1.1"/>
<circle class="rv" cx="204.6" cy="558" r="1.1"/>
<path class="prt" d="M222.8,539 Q223,534 226.4,534 Q229.8,534 230,539 V602 Q230,604 226.4,604 Q222.8,604 222.8,602 Z" />
<circle class="rv" cx="226.4" cy="574" r="1.1"/>
<circle class="rv" cx="226.4" cy="580.5" r="1.1"/>
<circle class="rv" cx="226.4" cy="587" r="1.1"/>
<circle class="rv" cx="226.4" cy="593.5" r="1.1"/>
<circle class="rv" cx="226.4" cy="600" r="1.1"/>
<path class="ln" d="M222.8,604 Q226.4,606 230,604" />
<rect class="prt" x="198.1" y="595.8" width="13" height="9.8" rx="2.5" />
<rect class="slot" x="200.3" y="597.8" width="8.6" height="2.3" rx="1" />
<rect class="slot" x="200.3" y="601.3" width="8.6" height="2.3" rx="1" />
<rect class="prt" x="219.5" y="526.4" width="13.8" height="9.8" rx="2.5" />
<rect class="slot" x="221.7" y="528.4" width="9.4" height="2.3" rx="1" />
<rect class="slot" x="221.7" y="531.9" width="9.4" height="2.3" rx="1" />
<rect class="prt" x="187.6" y="574.4" width="27.4" height="3.6" rx="1.8" />
<rect class="prt" x="216.2" y="553.6" width="27.7" height="3.6" rx="1.8" />
<rect class="car" x="253.2" y="519.2" width="57.3" height="93.5" />
<rect class="gt" x="269.3" y="519.5" width="2.8" height="7.5" />
<rect class="gt" x="269.3" y="605" width="2.8" height="7.4" />
<rect class="gt" x="291.1" y="519.5" width="2.8" height="7.5" />
<rect class="gt" x="291.1" y="603" width="2.8" height="9.4" />
<path class="prt" d="M267.1,529.5 Q267.3,524.5 270.7,524.5 Q274.1,524.5 274.3,529.5 V595 Q274.3,597 270.7,597 Q267.1,597 267.1,595 Z" />
<circle class="rv" cx="270.7" cy="532" r="1.1"/>
<circle class="rv" cx="270.7" cy="538.5" r="1.1"/>
<circle class="rv" cx="270.7" cy="545" r="1.1"/>
<circle class="rv" cx="270.7" cy="551.5" r="1.1"/>
<circle class="rv" cx="270.7" cy="558" r="1.1"/>
<path class="prt" d="M288.9,539 Q289.1,534 292.5,534 Q295.9,534 296.1,539 V602 Q296.1,604 292.5,604 Q288.9,604 288.9,602 Z" />
<circle class="rv" cx="292.5" cy="574" r="1.1"/>
<circle class="rv" cx="292.5" cy="580.5" r="1.1"/>
<circle class="rv" cx="292.5" cy="587" r="1.1"/>
<circle class="rv" cx="292.5" cy="593.5" r="1.1"/>
<circle class="rv" cx="292.5" cy="600" r="1.1"/>
<path class="ln" d="M288.9,604 Q292.5,606 296.1,604" />
<rect class="prt" x="264.2" y="595.8" width="13" height="9.8" rx="2.5" />
<rect class="slot" x="266.4" y="597.8" width="8.6" height="2.3" rx="1" />
<rect class="slot" x="266.4" y="601.3" width="8.6" height="2.3" rx="1" />
<rect class="prt" x="285.6" y="526.4" width="13.8" height="9.8" rx="2.5" />
<rect class="slot" x="287.8" y="528.4" width="9.4" height="2.3" rx="1" />
<rect class="slot" x="287.8" y="531.9" width="9.4" height="2.3" rx="1" />
<rect class="prt" x="253.7" y="574.4" width="27.4" height="3.6" rx="1.8" />
<rect class="prt" x="282.3" y="553.6" width="27.7" height="3.6" rx="1.8" />
<rect class="car" x="319.3" y="519.2" width="57.3" height="93.5" />
<rect class="gt" x="335.4" y="519.5" width="2.8" height="7.5" />
<rect class="gt" x="335.4" y="605" width="2.8" height="7.4" />
<rect class="gt" x="357.2" y="519.5" width="2.8" height="7.5" />
<rect class="gt" x="357.2" y="603" width="2.8" height="9.4" />
<path class="prt" d="M333.2,529.5 Q333.4,524.5 336.8,524.5 Q340.2,524.5 340.4,529.5 V595 Q340.4,597 336.8,597 Q333.2,597 333.2,595 Z" />
<circle class="rv" cx="336.8" cy="532" r="1.1"/>
<circle class="rv" cx="336.8" cy="538.5" r="1.1"/>
<circle class="rv" cx="336.8" cy="545" r="1.1"/>
<circle class="rv" cx="336.8" cy="551.5" r="1.1"/>
<circle class="rv" cx="336.8" cy="558" r="1.1"/>
<path class="prt" d="M355,539 Q355.2,534 358.6,534 Q362,534 362.2,539 V602 Q362.2,604 358.6,604 Q355,604 355,602 Z" />
<circle class="rv" cx="358.6" cy="574" r="1.1"/>
<circle class="rv" cx="358.6" cy="580.5" r="1.1"/>
<circle class="rv" cx="358.6" cy="587" r="1.1"/>
<circle class="rv" cx="358.6" cy="593.5" r="1.1"/>
<circle class="rv" cx="358.6" cy="600" r="1.1"/>
<path class="ln" d="M355,604 Q358.6,606 362.2,604" />
<rect class="prt" x="330.3" y="595.8" width="13" height="9.8" rx="2.5" />
<rect class="slot" x="332.5" y="597.8" width="8.6" height="2.3" rx="1" />
<rect class="slot" x="332.5" y="601.3" width="8.6" height="2.3" rx="1" />
<rect class="prt" x="351.7" y="526.4" width="13.8" height="9.8" rx="2.5" />
<rect class="slot" x="353.9" y="528.4" width="9.4" height="2.3" rx="1" />
<rect class="slot" x="353.9" y="531.9" width="9.4" height="2.3" rx="1" />
<rect class="prt" x="319.8" y="574.4" width="27.4" height="3.6" rx="1.8" />
<rect class="prt" x="348.4" y="553.6" width="27.7" height="3.6" rx="1.8" />
<rect class="car" x="385.3" y="519.2" width="57.3" height="93.5" />
<rect class="gt" x="401.4" y="519.5" width="2.8" height="7.5" />
<rect class="gt" x="401.4" y="605" width="2.8" height="7.4" />
<rect class="gt" x="423.2" y="519.5" width="2.8" height="7.5" />
<rect class="gt" x="423.2" y="603" width="2.8" height="9.4" />
<path class="prt" d="M399.2,529.5 Q399.4,524.5 402.8,524.5 Q406.2,524.5 406.4,529.5 V595 Q406.4,597 402.8,597 Q399.2,597 399.2,595 Z" />
<circle class="rv" cx="402.8" cy="532" r="1.1"/>
<circle class="rv" cx="402.8" cy="538.5" r="1.1"/>
<circle class="rv" cx="402.8" cy="545" r="1.1"/>
<circle class="rv" cx="402.8" cy="551.5" r="1.1"/>
<circle class="rv" cx="402.8" cy="558" r="1.1"/>
<path class="prt" d="M421,539 Q421.2,534 424.6,534 Q428,534 428.2,539 V602 Q428.2,604 424.6,604 Q421,604 421,602 Z" />
<circle class="rv" cx="424.6" cy="574" r="1.1"/>
<circle class="rv" cx="424.6" cy="580.5" r="1.1"/>
<circle class="rv" cx="424.6" cy="587" r="1.1"/>
<circle class="rv" cx="424.6" cy="593.5" r="1.1"/>
<circle class="rv" cx="424.6" cy="600" r="1.1"/>
<path class="ln" d="M421,604 Q424.6,606 428.2,604" />
<rect class="prt" x="396.3" y="595.8" width="13" height="9.8" rx="2.5" />
<rect class="slot" x="398.5" y="597.8" width="8.6" height="2.3" rx="1" />
<rect class="slot" x="398.5" y="601.3" width="8.6" height="2.3" rx="1" />
<rect class="prt" x="417.7" y="526.4" width="13.8" height="9.8" rx="2.5" />
<rect class="slot" x="419.9" y="528.4" width="9.4" height="2.3" rx="1" />
<rect class="slot" x="419.9" y="531.9" width="9.4" height="2.3" rx="1" />
<rect class="prt" x="385.8" y="574.4" width="27.4" height="3.6" rx="1.8" />
<rect class="prt" x="414.4" y="553.6" width="27.7" height="3.6" rx="1.8" />
<rect class="car" x="446.8" y="331.6" width="106.2" height="34" />
<rect class="gt" x="459.3" y="332" width="2.6" height="33.2" />
<rect class="prt" x="454.4" y="339" width="12.2" height="19.2" />
<path class="ln" d="M456.3,341 Q454.8,348.6 456.3,356.2" />
<line class="ln" x1="457.8" y1="340" x2="457.8" y2="357.2" />
<rect class="gt" x="479.1" y="332" width="2.6" height="33.2" />
<rect class="prt" x="474.2" y="339" width="12.2" height="19.2" />
<path class="ln" d="M476.1,341 Q474.6,348.6 476.1,356.2" />
<line class="ln" x1="477.6" y1="340" x2="477.6" y2="357.2" />
<rect class="gt" x="498.9" y="332" width="2.6" height="33.2" />
<rect class="prt" x="494" y="339" width="12.2" height="19.2" />
<path class="ln" d="M495.9,341 Q494.4,348.6 495.9,356.2" />
<line class="ln" x1="497.4" y1="340" x2="497.4" y2="357.2" />
<rect class="gt" x="518.7" y="332" width="2.6" height="33.2" />
<rect class="prt" x="513.8" y="339" width="12.2" height="19.2" />
<path class="ln" d="M515.7,341 Q514.2,348.6 515.7,356.2" />
<line class="ln" x1="517.2" y1="340" x2="517.2" y2="357.2" />
<rect class="gt" x="538.5" y="332" width="2.6" height="33.2" />
<rect class="prt" x="533.6" y="339" width="12.2" height="19.2" />
<path class="ln" d="M535.5,341 Q534,348.6 535.5,356.2" />
<line class="ln" x1="537" y1="340" x2="537" y2="357.2" />
<polygon class="car" points="404.4,374.4 595.7,374.4 595.7,439.8 548.3,439.8 548.3,612.5 451.8,612.5 451.8,439.8 404.4,439.8" />
<rect class="gt" x="465.2" y="374.8" width="2.6" height="8.2" />
<rect class="gt" x="532.4" y="374.8" width="2.6" height="8.2" />
<rect class="gt" x="463.7" y="604" width="2.6" height="8.1" />
<rect class="gt" x="530.7" y="604" width="2.6" height="8.1" />
<rect class="mesh" x="458" y="382.4" width="83.7" height="222.6" rx="2.5" />
<path class="car" d="M502,384.3 H530.2 V389 A14.1,14 0 0 1 502,389 Z" />
<path class="car" d="M503.4,605 V594 A13.9,11 0 0 1 531.2,594 V605 Z" />
<rect class="gt" x="426.9" y="374.8" width="2.6" height="7.2" />
<rect class="gt" x="412.7" y="431" width="2.6" height="8.4" />
<rect class="gt" x="440.5" y="431" width="2.6" height="8.4" />
<path class="mesh" d="M411.6,381.6 H444.7 V389 A16.55,16.4 0 0 1 411.6,389 Z" />
<rect class="gt" x="427.2" y="404" width="2" height="5" />
<path class="prt" d="M411,432.1 V424.5 A16.85,16.2 0 0 1 444.7,424.5 V432.1 Z" />
<path class="car" d="M413.2,427.6 V424.5 A14.65,14 0 0 1 442.5,424.5 V427.6 Z" />
<g transform="translate(1000,0) scale(-1,1)"><rect class="gt" x="426.9" y="374.8" width="2.6" height="7.2" />
<rect class="gt" x="412.7" y="431" width="2.6" height="8.4" />
<rect class="gt" x="440.5" y="431" width="2.6" height="8.4" />
<path class="mesh" d="M411.6,381.6 H444.7 V389 A16.55,16.4 0 0 1 411.6,389 Z" />
<rect class="gt" x="427.2" y="404" width="2" height="5" />
<path class="prt" d="M411,432.1 V424.5 A16.85,16.2 0 0 1 444.7,424.5 V432.1 Z" />
<path class="car" d="M413.2,427.6 V424.5 A14.65,14 0 0 1 442.5,424.5 V427.6 Z" /></g>
<rect class="car" x="561.8" y="471.6" width="47.4" height="23.9" />
<rect class="gt" x="571.2" y="472" width="2.4" height="23.1" />
<rect class="prt" x="569.2" y="479" width="6.4" height="10" />
<rect class="gt" x="584.3" y="472" width="2.4" height="23.1" />
<rect class="prt" x="582.3" y="479" width="6.4" height="10" />
<rect class="gt" x="597" y="472" width="2.4" height="23.1" />
<rect class="prt" x="595" y="479" width="6.4" height="10" />
<rect class="car" x="557.4" y="519.4" width="56.1" height="92.3" />
<line class="ln" x1="557.4" y1="563.2" x2="613.5" y2="563.2" />
<rect class="gt" x="570.2" y="519.8" width="2.8" height="6.2" />
<rect class="gt" x="570.2" y="605" width="2.8" height="6.3" />
<path class="prt" d="M568,529.4 Q568.2,524.4 571.6,524.4 Q575,524.4 575.2,529.4 V595 Q575.2,597 571.6,597 Q568,597 568,595 Z" />
<circle class="rv" cx="571.6" cy="531.4" r="1.1"/>
<circle class="rv" cx="571.6" cy="537.7" r="1.1"/>
<circle class="rv" cx="571.6" cy="544" r="1.1"/>
<circle class="rv" cx="571.6" cy="550.2" r="1.1"/>
<circle class="rv" cx="571.6" cy="556.5" r="1.1"/>
<rect class="gt" x="598" y="519.8" width="2.8" height="6.2" />
<rect class="gt" x="598" y="605" width="2.8" height="6.3" />
<path class="prt" d="M595.8,529.4 Q596,524.4 599.4,524.4 Q602.8,524.4 603,529.4 V595 Q603,597 599.4,597 Q595.8,597 595.8,595 Z" />
<circle class="rv" cx="599.4" cy="531.4" r="1.1"/>
<circle class="rv" cx="599.4" cy="537.7" r="1.1"/>
<circle class="rv" cx="599.4" cy="544" r="1.1"/>
<circle class="rv" cx="599.4" cy="550.2" r="1.1"/>
<circle class="rv" cx="599.4" cy="556.5" r="1.1"/>
<rect class="prt" x="557.8" y="559.8" width="24.4" height="3.6" rx="1.8" />
<rect class="prt" x="561" y="574.5" width="21.2" height="3.6" rx="1.8" />
<rect class="prt" x="589.2" y="559.8" width="23.9" height="3.6" rx="1.8" />
<rect class="prt" x="589.2" y="574.5" width="20.8" height="3.6" rx="1.8" />
<rect class="prt" x="564.2" y="596" width="14.8" height="10.5" rx="2.5" />
<rect class="slot" x="566.4" y="598" width="10.4" height="2.65" rx="1" />
<rect class="slot" x="566.4" y="601.85" width="10.4" height="2.65" rx="1" />
<rect class="prt" x="592" y="596" width="14.8" height="10.5" rx="2.5" />
<rect class="slot" x="594.2" y="598" width="10.4" height="2.65" rx="1" />
<rect class="slot" x="594.2" y="601.85" width="10.4" height="2.65" rx="1" />
<rect class="car" x="624.2" y="461.9" width="110" height="64.1" />
<rect class="gt" x="636.7" y="462.3" width="3" height="7.2" />
<rect class="gt" x="636.7" y="518.5" width="3" height="7.1" />
<rect class="prt" x="631.2" y="468.9" width="14" height="50.2" />
<rect class="prt3" x="631.2" y="487.6" width="14" height="8.9" />
<line class="thk" x1="631.2" y1="496.5" x2="645.2" y2="496.5" />
<rect class="slot" x="634.2" y="513.4" width="8" height="3" />
<rect class="gt" x="657.2" y="462.3" width="3" height="7.2" />
<rect class="gt" x="657.2" y="518.5" width="3" height="7.1" />
<rect class="prt" x="651.7" y="468.9" width="14" height="50.2" />
<rect class="prt3" x="651.7" y="487.6" width="14" height="8.9" />
<line class="thk" x1="651.7" y1="496.5" x2="665.7" y2="496.5" />
<rect class="slot" x="654.7" y="513.4" width="8" height="3" />
<rect class="gt" x="677.7" y="462.3" width="3" height="7.2" />
<rect class="gt" x="677.7" y="518.5" width="3" height="7.1" />
<rect class="prt" x="672.2" y="468.9" width="14" height="50.2" />
<rect class="prt3" x="672.2" y="487.6" width="14" height="8.9" />
<line class="thk" x1="672.2" y1="496.5" x2="686.2" y2="496.5" />
<rect class="slot" x="675.2" y="513.4" width="8" height="3" />
<rect class="gt" x="698.2" y="462.3" width="3" height="7.2" />
<rect class="gt" x="698.2" y="518.5" width="3" height="7.1" />
<rect class="prt" x="692.7" y="468.9" width="14" height="50.2" />
<rect class="prt3" x="692.7" y="487.6" width="14" height="8.9" />
<line class="thk" x1="692.7" y1="496.5" x2="706.7" y2="496.5" />
<rect class="slot" x="695.7" y="513.4" width="8" height="3" />
<rect class="gt" x="718.7" y="462.3" width="3" height="7.2" />
<rect class="gt" x="718.7" y="518.5" width="3" height="7.1" />
<rect class="prt" x="713.2" y="468.9" width="14" height="50.2" />
<rect class="prt3" x="713.2" y="487.6" width="14" height="8.9" />
<line class="thk" x1="713.2" y1="496.5" x2="727.2" y2="496.5" />
<rect class="slot" x="716.2" y="513.4" width="8" height="3" />
<rect class="car" x="624.1" y="568" width="110.1" height="44.5" />
<rect class="gt" x="636.8" y="568.4" width="3" height="7.6" />
<rect class="gt" x="636.8" y="604" width="3" height="8.1" />
<rect class="prt" x="635.2" y="596" width="6.2" height="9" rx="1.2" />
<rect class="prt" x="631.4" y="575.4" width="13.8" height="21.7" />
<rect class="dk" x="631.4" y="588.3" width="13.8" height="2.3" />
<rect class="gt" x="657.3" y="568.4" width="3" height="7.6" />
<rect class="gt" x="657.3" y="604" width="3" height="8.1" />
<rect class="prt" x="655.7" y="596" width="6.2" height="9" rx="1.2" />
<rect class="prt" x="651.9" y="575.4" width="13.8" height="21.7" />
<rect class="dk" x="651.9" y="588.3" width="13.8" height="2.3" />
<rect class="gt" x="677.8" y="568.4" width="3" height="7.6" />
<rect class="gt" x="677.8" y="604" width="3" height="8.1" />
<rect class="prt" x="676.2" y="596" width="6.2" height="9" rx="1.2" />
<rect class="prt" x="672.4" y="575.4" width="13.8" height="21.7" />
<rect class="dk" x="672.4" y="588.3" width="13.8" height="2.3" />
<rect class="gt" x="698.3" y="568.4" width="3" height="7.6" />
<rect class="gt" x="698.3" y="604" width="3" height="8.1" />
<rect class="prt" x="696.7" y="596" width="6.2" height="9" rx="1.2" />
<rect class="prt" x="692.9" y="575.4" width="13.8" height="21.7" />
<rect class="dk" x="692.9" y="588.3" width="13.8" height="2.3" />
<rect class="gt" x="718.8" y="568.4" width="3" height="7.6" />
<rect class="gt" x="718.8" y="604" width="3" height="8.1" />
<rect class="prt" x="717.2" y="596" width="6.2" height="9" rx="1.2" />
<rect class="prt" x="713.4" y="575.4" width="13.8" height="21.7" />
<rect class="dk" x="713.4" y="588.3" width="13.8" height="2.3" />
<rect class="car" x="747.9" y="487.3" width="47.6" height="30.2" />
<rect class="gt" x="760.7" y="487.7" width="2.6" height="29.4" />
<polygon class="gear" points="762,494.8 762.92,495.21 763.61,496.2 764.06,497.23 764.52,497.84 765.27,497.93 766.4,497.8 767.6,497.91 768.41,498.5 768.52,499.5 768,500.59 767.33,501.5 767.03,502.2 767.33,502.9 768,503.81 768.52,504.9 768.41,505.9 767.6,506.49 766.4,506.6 765.27,506.47 764.52,506.56 764.06,507.17 763.61,508.2 762.92,509.19 762,509.6 761.08,509.19 760.39,508.2 759.94,507.17 759.48,506.56 758.73,506.47 757.6,506.6 756.4,506.49 755.59,505.9 755.48,504.9 756,503.81 756.67,502.9 756.97,502.2 756.67,501.5 756,500.59 755.48,499.5 755.59,498.5 756.4,497.91 757.6,497.8 758.73,497.93 759.48,497.84 759.94,497.23 760.39,496.2 761.08,495.21" /><circle class="gring" cx="762" cy="502.2" r="3.11"/><circle class="gdot" cx="762" cy="502.2" r="1.18"/>
<rect class="gt" x="779.5" y="487.7" width="2.6" height="29.4" />
<polygon class="gear" points="780.8,494.8 781.72,495.21 782.41,496.2 782.86,497.23 783.32,497.84 784.07,497.93 785.2,497.8 786.4,497.91 787.21,498.5 787.32,499.5 786.8,500.59 786.13,501.5 785.83,502.2 786.13,502.9 786.8,503.81 787.32,504.9 787.21,505.9 786.4,506.49 785.2,506.6 784.07,506.47 783.32,506.56 782.86,507.17 782.41,508.2 781.72,509.19 780.8,509.6 779.88,509.19 779.19,508.2 778.74,507.17 778.28,506.56 777.53,506.47 776.4,506.6 775.2,506.49 774.39,505.9 774.28,504.9 774.8,503.81 775.47,502.9 775.77,502.2 775.47,501.5 774.8,500.59 774.28,499.5 774.39,498.5 775.2,497.91 776.4,497.8 777.53,497.93 778.28,497.84 778.74,497.23 779.19,496.2 779.88,495.21" /><circle class="gring" cx="780.8" cy="502.2" r="3.11"/><circle class="gdot" cx="780.8" cy="502.2" r="1.18"/>
<rect class="car" x="747.9" y="526.3" width="47.6" height="29.4" />
<rect class="gt" x="760.7" y="526.7" width="2.6" height="28.6" />
<polygon class="gear" points="762,533.6 762.92,534.01 763.61,535 764.06,536.03 764.52,536.64 765.27,536.73 766.4,536.6 767.6,536.71 768.41,537.3 768.52,538.3 768,539.39 767.33,540.3 767.03,541 767.33,541.7 768,542.61 768.52,543.7 768.41,544.7 767.6,545.29 766.4,545.4 765.27,545.27 764.52,545.36 764.06,545.97 763.61,547 762.92,547.99 762,548.4 761.08,547.99 760.39,547 759.94,545.97 759.48,545.36 758.73,545.27 757.6,545.4 756.4,545.29 755.59,544.7 755.48,543.7 756,542.61 756.67,541.7 756.97,541 756.67,540.3 756,539.39 755.48,538.3 755.59,537.3 756.4,536.71 757.6,536.6 758.73,536.73 759.48,536.64 759.94,536.03 760.39,535 761.08,534.01" /><circle class="gring" cx="762" cy="541" r="3.11"/><circle class="gdot" cx="762" cy="541" r="1.18"/>
<rect class="gt" x="779.5" y="526.7" width="2.6" height="28.6" />
<polygon class="gear" points="780.8,533.6 781.72,534.01 782.41,535 782.86,536.03 783.32,536.64 784.07,536.73 785.2,536.6 786.4,536.71 787.21,537.3 787.32,538.3 786.8,539.39 786.13,540.3 785.83,541 786.13,541.7 786.8,542.61 787.32,543.7 787.21,544.7 786.4,545.29 785.2,545.4 784.07,545.27 783.32,545.36 782.86,545.97 782.41,547 781.72,547.99 780.8,548.4 779.88,547.99 779.19,547 778.74,545.97 778.28,545.36 777.53,545.27 776.4,545.4 775.2,545.29 774.39,544.7 774.28,543.7 774.8,542.61 775.47,541.7 775.77,541 775.47,540.3 774.8,539.39 774.28,538.3 774.39,537.3 775.2,536.71 776.4,536.6 777.53,536.73 778.28,536.64 778.74,536.03 779.19,535 779.88,534.01" /><circle class="gring" cx="780.8" cy="541" r="3.11"/><circle class="gdot" cx="780.8" cy="541" r="1.18"/>
<rect class="car" x="764.7" y="562.5" width="99.9" height="49.9" />
<rect class="gt" x="772.5" y="563" width="3" height="49" />
<line class="thin" x1="772.1" y1="568" x2="772.1" y2="605" />
<line class="thin" x1="775.9" y1="568" x2="775.9" y2="605" />
<polygon class="eye" points="771.6,570.5 776.4,570.5 774,575.5" />
<rect class="eye2" x="771.8" y="578" width="4.4" height="4" />
<rect class="eye3" x="771.8" y="584.5" width="4.4" height="9.5" />
<rect class="eye2" x="771.8" y="595.5" width="4.4" height="3.5" />
<circle class="eye" cx="774" cy="602.6" r="2.1"/>
<rect class="gt" x="781.55" y="563" width="3" height="49" />
<line class="thin" x1="781.15" y1="568" x2="781.15" y2="605" />
<line class="thin" x1="784.95" y1="568" x2="784.95" y2="605" />
<polygon class="eye" points="780.65,570.5 785.45,570.5 783.05,575.5" />
<rect class="eye2" x="780.85" y="578" width="4.4" height="4" />
<rect class="eye3" x="780.85" y="584.5" width="4.4" height="9.5" />
<rect class="eye2" x="780.85" y="595.5" width="4.4" height="3.5" />
<circle class="eye" cx="783.05" cy="602.6" r="2.1"/>
<rect class="gt" x="790.6" y="563" width="3" height="49" />
<line class="thin" x1="790.2" y1="568" x2="790.2" y2="605" />
<line class="thin" x1="794" y1="568" x2="794" y2="605" />
<polygon class="eye" points="789.7,570.5 794.5,570.5 792.1,575.5" />
<rect class="eye2" x="789.9" y="578" width="4.4" height="4" />
<rect class="eye3" x="789.9" y="584.5" width="4.4" height="9.5" />
<rect class="eye2" x="789.9" y="595.5" width="4.4" height="3.5" />
<circle class="eye" cx="792.1" cy="602.6" r="2.1"/>
<rect class="gt" x="799.65" y="563" width="3" height="49" />
<line class="thin" x1="799.25" y1="568" x2="799.25" y2="605" />
<line class="thin" x1="803.05" y1="568" x2="803.05" y2="605" />
<polygon class="eye" points="798.75,570.5 803.55,570.5 801.15,575.5" />
<rect class="eye2" x="798.95" y="578" width="4.4" height="4" />
<rect class="eye3" x="798.95" y="584.5" width="4.4" height="9.5" />
<rect class="eye2" x="798.95" y="595.5" width="4.4" height="3.5" />
<circle class="eye" cx="801.15" cy="602.6" r="2.1"/>
<rect class="gt" x="808.7" y="563" width="3" height="49" />
<line class="thin" x1="808.3" y1="568" x2="808.3" y2="605" />
<line class="thin" x1="812.1" y1="568" x2="812.1" y2="605" />
<polygon class="eye" points="807.8,570.5 812.6,570.5 810.2,575.5" />
<rect class="eye2" x="808" y="578" width="4.4" height="4" />
<rect class="eye3" x="808" y="584.5" width="4.4" height="9.5" />
<rect class="eye2" x="808" y="595.5" width="4.4" height="3.5" />
<circle class="eye" cx="810.2" cy="602.6" r="2.1"/>
<rect class="gt" x="817.75" y="563" width="3" height="49" />
<line class="thin" x1="817.35" y1="568" x2="817.35" y2="605" />
<line class="thin" x1="821.15" y1="568" x2="821.15" y2="605" />
<polygon class="eye" points="816.85,570.5 821.65,570.5 819.25,575.5" />
<rect class="eye2" x="817.05" y="578" width="4.4" height="4" />
<rect class="eye3" x="817.05" y="584.5" width="4.4" height="9.5" />
<rect class="eye2" x="817.05" y="595.5" width="4.4" height="3.5" />
<circle class="eye" cx="819.25" cy="602.6" r="2.1"/>
<rect class="gt" x="826.8" y="563" width="3" height="49" />
<line class="thin" x1="826.4" y1="568" x2="826.4" y2="605" />
<line class="thin" x1="830.2" y1="568" x2="830.2" y2="605" />
<polygon class="eye" points="825.9,570.5 830.7,570.5 828.3,575.5" />
<rect class="eye2" x="826.1" y="578" width="4.4" height="4" />
<rect class="eye3" x="826.1" y="584.5" width="4.4" height="9.5" />
<rect class="eye2" x="826.1" y="595.5" width="4.4" height="3.5" />
<circle class="eye" cx="828.3" cy="602.6" r="2.1"/>
<rect class="gt" x="835.85" y="563" width="3" height="49" />
<line class="thin" x1="835.45" y1="568" x2="835.45" y2="605" />
<line class="thin" x1="839.25" y1="568" x2="839.25" y2="605" />
<polygon class="eye" points="834.95,570.5 839.75,570.5 837.35,575.5" />
<rect class="eye2" x="835.15" y="578" width="4.4" height="4" />
<rect class="eye3" x="835.15" y="584.5" width="4.4" height="9.5" />
<rect class="eye2" x="835.15" y="595.5" width="4.4" height="3.5" />
<circle class="eye" cx="837.35" cy="602.6" r="2.1"/>
<rect class="gt" x="844.9" y="563" width="3" height="49" />
<line class="thin" x1="844.5" y1="568" x2="844.5" y2="605" />
<line class="thin" x1="848.3" y1="568" x2="848.3" y2="605" />
<polygon class="eye" points="844,570.5 848.8,570.5 846.4,575.5" />
<rect class="eye2" x="844.2" y="578" width="4.4" height="4" />
<rect class="eye3" x="844.2" y="584.5" width="4.4" height="9.5" />
<rect class="eye2" x="844.2" y="595.5" width="4.4" height="3.5" />
<circle class="eye" cx="846.4" cy="602.6" r="2.1"/>
<rect class="gt" x="853.95" y="563" width="3" height="49" />
<line class="thin" x1="853.55" y1="568" x2="853.55" y2="605" />
<line class="thin" x1="857.35" y1="568" x2="857.35" y2="605" />
<polygon class="eye" points="853.05,570.5 857.85,570.5 855.45,575.5" />
<rect class="eye2" x="853.25" y="578" width="4.4" height="4" />
<rect class="eye3" x="853.25" y="584.5" width="4.4" height="9.5" />
<rect class="eye2" x="853.25" y="595.5" width="4.4" height="3.5" />
<circle class="eye" cx="855.45" cy="602.6" r="2.1"/>
<rect class="car" x="782.5" y="422" width="54.1" height="34.7" />
<rect class="gt" x="800" y="422.4" width="2.8" height="7.6" />
<rect class="gt" x="791.5" y="448" width="2.8" height="8.3" />
<rect class="prt" x="796.3" y="429.1" width="9.4" height="20.1" />
<rect class="prt" x="789.6" y="435.6" width="6.7" height="13.6" />
<line class="ln" x1="796.3" y1="435.6" x2="805.7" y2="435.6" />
<rect class="gt" x="823" y="422.4" width="2.8" height="7.6" />
<rect class="gt" x="814.5" y="448" width="2.8" height="8.3" />
<rect class="prt" x="819.3" y="429.1" width="9.4" height="20.1" />
<rect class="prt" x="812.6" y="435.6" width="6.7" height="13.6" />
<line class="ln" x1="819.3" y1="435.6" x2="828.7" y2="435.6" />
<rect class="car" x="808.1" y="515" width="56.7" height="41" />
<rect class="gt" x="818.3" y="515.4" width="2.8" height="7.6" />
<rect class="gt" x="818.3" y="547" width="2.8" height="8.6" />
<rect class="prt" x="815" y="522" width="9.4" height="26.3" />
<rect class="dk2" x="815" y="530.8" width="9.4" height="2.6" />
<circle class="hole" cx="817.4" cy="545.3" r="1.4"/>
<circle class="hole" cx="822" cy="545.3" r="1.4"/>
<rect class="gt" x="834.9" y="515.4" width="2.8" height="7.6" />
<rect class="gt" x="834.9" y="547" width="2.8" height="8.6" />
<rect class="prt" x="831.6" y="522" width="9.4" height="26.3" />
<rect class="dk2" x="831.6" y="530.8" width="9.4" height="2.6" />
<circle class="hole" cx="834" cy="545.3" r="1.4"/>
<circle class="hole" cx="838.6" cy="545.3" r="1.4"/>
<rect class="gt" x="851.2" y="515.4" width="2.8" height="7.6" />
<rect class="gt" x="851.2" y="547" width="2.8" height="8.6" />
<rect class="prt" x="847.9" y="522" width="9.4" height="26.3" />
<rect class="dk2" x="847.9" y="530.8" width="9.4" height="2.6" />
<circle class="hole" cx="850.3" cy="545.3" r="1.4"/>
<circle class="hole" cx="854.9" cy="545.3" r="1.4"/>
<rect class="car" x="930.4" y="300.8" width="36.3" height="72.5" />
<rect class="gt" x="951.9" y="301.2" width="2.8" height="7.8" />
<rect class="gt" x="951.9" y="365" width="2.8" height="7.9" />
<rect class="gt" x="930.8" y="336" width="7.2" height="2.8" />
<rect class="prt" x="937.6" y="323.9" width="9.5" height="26.3" />
<path class="prt" d="M947.1,311.5 Q947.1,308.5 950.1,308.5 H956.4 Q959.4,308.5 959.4,311.5 V363.3 Q959.4,366.3 956.4,366.3 H950.1 Q947.1,366.3 947.1,363.3 Z" />
<line class="thk" x1="947.1" y1="314.3" x2="959.4" y2="314.3" />
<line class="thk" x1="947.1" y1="322.6" x2="959.4" y2="322.6" />
<line class="thk" x1="947.1" y1="350.9" x2="959.4" y2="350.9" />
<line class="thk" x1="947.1" y1="359.2" x2="959.4" y2="359.2" />
<circle class="hole" cx="950.17" cy="312.1" r="1.3"/>
<circle class="hole" cx="956.33" cy="312.1" r="1.3"/>
<circle class="hole" cx="950.17" cy="362.7" r="1.3"/>
<circle class="hole" cx="956.33" cy="362.7" r="1.3"/>
<polygon class="car" points="847.3,421.9 919,421.9 919,398.5 966.5,398.5 966.5,472.5 847.3,472.5" />
<rect class="gt" x="858.35" y="422.3" width="2.8" height="4.7" />
<rect class="gt" x="858.35" y="467" width="2.8" height="5.1" />
<polygon class="prt" points="855.05,427.8 856.35,426.3 863.15,426.3 864.45,427.8 864.45,466.6 863.15,468.1 856.35,468.1 855.05,466.6" />
<line class="ln" x1="855.05" y1="439.4" x2="864.45" y2="439.4" />
<line class="ln" x1="855.05" y1="455" x2="864.45" y2="455" />
<rect class="gt" x="874.6" y="422.3" width="2.8" height="4.7" />
<rect class="gt" x="874.6" y="467" width="2.8" height="5.1" />
<polygon class="prt" points="871.3,427.8 872.6,426.3 879.4,426.3 880.7,427.8 880.7,466.6 879.4,468.1 872.6,468.1 871.3,466.6" />
<line class="ln" x1="871.3" y1="439.4" x2="880.7" y2="439.4" />
<line class="ln" x1="871.3" y1="455" x2="880.7" y2="455" />
<rect class="gt" x="890.5" y="422.3" width="2.8" height="7.7" />
<rect class="gt" x="890.5" y="464" width="2.8" height="8.1" />
<rect class="prt" x="887.4" y="429.4" width="9" height="35.6" />
<line class="ln" x1="887.4" y1="438.75" x2="896.4" y2="438.75" />
<line class="thk" x1="887.4" y1="448.75" x2="896.4" y2="448.75" />
<circle class="hole" cx="891.9" cy="452.5" r="1.3"/>
<circle class="hole" cx="891.9" cy="460" r="1.3"/>
<rect class="gt" x="907.1" y="422.3" width="2.8" height="7.7" />
<rect class="gt" x="907.1" y="464" width="2.8" height="8.1" />
<rect class="prt" x="904" y="429.4" width="9" height="35.6" />
<line class="ln" x1="904" y1="438.75" x2="913" y2="438.75" />
<line class="thk" x1="904" y1="448.75" x2="913" y2="448.75" />
<circle class="hole" cx="908.5" cy="452.5" r="1.3"/>
<circle class="hole" cx="908.5" cy="460" r="1.3"/>
<rect class="gt" x="939" y="433.8" width="7.6" height="3.2" />
<rect class="gt" x="931.1" y="398.9" width="2.8" height="7.1" />
<rect class="gt" x="931.1" y="464" width="2.8" height="8.1" />
<path class="prt" d="M926,408.6 Q926,405.6 929,405.6 H936 Q939,405.6 939,408.6 V462 Q939,465 936,465 H929 Q926,465 926,462 Z" />
<line class="thk" x1="926" y1="411.3" x2="939" y2="411.3" />
<line class="thk" x1="926" y1="421.25" x2="939" y2="421.25" />
<line class="thk" x1="926" y1="450" x2="939" y2="450" />
<line class="thk" x1="926" y1="459.4" x2="939" y2="459.4" />
<circle class="hole" cx="929.25" cy="409.2" r="1.3"/>
<circle class="hole" cx="935.75" cy="409.2" r="1.3"/>
<circle class="hole" cx="929.25" cy="461.4" r="1.3"/>
<circle class="hole" cx="935.75" cy="461.4" r="1.3"/>
<rect class="gt" x="951.7" y="398.9" width="2.8" height="7.1" />
<rect class="gt" x="951.7" y="464" width="2.8" height="8.1" />
<path class="prt" d="M946.6,408.6 Q946.6,405.6 949.6,405.6 H956.6 Q959.6,405.6 959.6,408.6 V462 Q959.6,465 956.6,465 H949.6 Q946.6,465 946.6,462 Z" />
<line class="thk" x1="946.6" y1="411.3" x2="959.6" y2="411.3" />
<line class="thk" x1="946.6" y1="421.25" x2="959.6" y2="421.25" />
<line class="thk" x1="946.6" y1="450" x2="959.6" y2="450" />
<line class="thk" x1="946.6" y1="459.4" x2="959.6" y2="459.4" />
<circle class="hole" cx="949.85" cy="409.2" r="1.3"/>
<circle class="hole" cx="956.35" cy="409.2" r="1.3"/>
<circle class="hole" cx="949.85" cy="461.4" r="1.3"/>
<circle class="hole" cx="956.35" cy="461.4" r="1.3"/>
<rect class="car" x="875.1" y="514.8" width="91.5" height="97.7" />
<polygon class="gt" points="882.6,515.4 886.4,515.4 885.1,522.5 883.9,522.5" />
<polygon class="gt" points="883.9,605 885.1,605 886.4,612 882.6,612" />
<ellipse class="link" cx="884.5" cy="525" rx="2.3" ry="3.0"/>
<circle class="linkc" cx="884.5" cy="525" r="0.8"/>
<ellipse class="link" cx="884.5" cy="530.86" rx="2.3" ry="3.0"/>
<circle class="linkc" cx="884.5" cy="530.86" r="0.8"/>
<ellipse class="link" cx="884.5" cy="536.72" rx="2.3" ry="3.0"/>
<circle class="linkc" cx="884.5" cy="536.72" r="0.8"/>
<ellipse class="link" cx="884.5" cy="542.58" rx="2.3" ry="3.0"/>
<circle class="linkc" cx="884.5" cy="542.58" r="0.8"/>
<ellipse class="link" cx="884.5" cy="548.44" rx="2.3" ry="3.0"/>
<circle class="linkc" cx="884.5" cy="548.44" r="0.8"/>
<ellipse class="link" cx="884.5" cy="554.3" rx="2.3" ry="3.0"/>
<circle class="linkc" cx="884.5" cy="554.3" r="0.8"/>
<ellipse class="link" cx="884.5" cy="560.16" rx="2.3" ry="3.0"/>
<circle class="linkc" cx="884.5" cy="560.16" r="0.8"/>
<ellipse class="link" cx="884.5" cy="566.02" rx="2.3" ry="3.0"/>
<circle class="linkc" cx="884.5" cy="566.02" r="0.8"/>
<ellipse class="link" cx="884.5" cy="571.88" rx="2.3" ry="3.0"/>
<circle class="linkc" cx="884.5" cy="571.88" r="0.8"/>
<ellipse class="link" cx="884.5" cy="577.74" rx="2.3" ry="3.0"/>
<circle class="linkc" cx="884.5" cy="577.74" r="0.8"/>
<ellipse class="link" cx="884.5" cy="583.6" rx="2.3" ry="3.0"/>
<circle class="linkc" cx="884.5" cy="583.6" r="0.8"/>
<ellipse class="link" cx="884.5" cy="589.46" rx="2.3" ry="3.0"/>
<circle class="linkc" cx="884.5" cy="589.46" r="0.8"/>
<ellipse class="link" cx="884.5" cy="595.32" rx="2.3" ry="3.0"/>
<circle class="linkc" cx="884.5" cy="595.32" r="0.8"/>
<ellipse class="link" cx="884.5" cy="601.18" rx="2.3" ry="3.0"/>
<circle class="linkc" cx="884.5" cy="601.18" r="0.8"/>
<polygon class="gt" points="890.72,515.4 894.52,515.4 893.22,522.5 892.02,522.5" />
<polygon class="gt" points="892.02,605 893.22,605 894.52,612 890.72,612" />
<ellipse class="link" cx="892.62" cy="525" rx="2.3" ry="3.0"/>
<circle class="linkc" cx="892.62" cy="525" r="0.8"/>
<ellipse class="link" cx="892.62" cy="530.86" rx="2.3" ry="3.0"/>
<circle class="linkc" cx="892.62" cy="530.86" r="0.8"/>
<ellipse class="link" cx="892.62" cy="536.72" rx="2.3" ry="3.0"/>
<circle class="linkc" cx="892.62" cy="536.72" r="0.8"/>
<ellipse class="link" cx="892.62" cy="542.58" rx="2.3" ry="3.0"/>
<circle class="linkc" cx="892.62" cy="542.58" r="0.8"/>
<ellipse class="link" cx="892.62" cy="548.44" rx="2.3" ry="3.0"/>
<circle class="linkc" cx="892.62" cy="548.44" r="0.8"/>
<ellipse class="link" cx="892.62" cy="554.3" rx="2.3" ry="3.0"/>
<circle class="linkc" cx="892.62" cy="554.3" r="0.8"/>
<ellipse class="link" cx="892.62" cy="560.16" rx="2.3" ry="3.0"/>
<circle class="linkc" cx="892.62" cy="560.16" r="0.8"/>
<ellipse class="link" cx="892.62" cy="566.02" rx="2.3" ry="3.0"/>
<circle class="linkc" cx="892.62" cy="566.02" r="0.8"/>
<ellipse class="link" cx="892.62" cy="571.88" rx="2.3" ry="3.0"/>
<circle class="linkc" cx="892.62" cy="571.88" r="0.8"/>
<ellipse class="link" cx="892.62" cy="577.74" rx="2.3" ry="3.0"/>
<circle class="linkc" cx="892.62" cy="577.74" r="0.8"/>
<ellipse class="link" cx="892.62" cy="583.6" rx="2.3" ry="3.0"/>
<circle class="linkc" cx="892.62" cy="583.6" r="0.8"/>
<ellipse class="link" cx="892.62" cy="589.46" rx="2.3" ry="3.0"/>
<circle class="linkc" cx="892.62" cy="589.46" r="0.8"/>
<ellipse class="link" cx="892.62" cy="595.32" rx="2.3" ry="3.0"/>
<circle class="linkc" cx="892.62" cy="595.32" r="0.8"/>
<ellipse class="link" cx="892.62" cy="601.18" rx="2.3" ry="3.0"/>
<circle class="linkc" cx="892.62" cy="601.18" r="0.8"/>
<polygon class="gt" points="898.84,515.4 902.64,515.4 901.34,522.5 900.14,522.5" />
<polygon class="gt" points="900.14,605 901.34,605 902.64,612 898.84,612" />
<ellipse class="link" cx="900.74" cy="525" rx="2.3" ry="3.0"/>
<circle class="linkc" cx="900.74" cy="525" r="0.8"/>
<ellipse class="link" cx="900.74" cy="530.86" rx="2.3" ry="3.0"/>
<circle class="linkc" cx="900.74" cy="530.86" r="0.8"/>
<ellipse class="link" cx="900.74" cy="536.72" rx="2.3" ry="3.0"/>
<circle class="linkc" cx="900.74" cy="536.72" r="0.8"/>
<ellipse class="link" cx="900.74" cy="542.58" rx="2.3" ry="3.0"/>
<circle class="linkc" cx="900.74" cy="542.58" r="0.8"/>
<ellipse class="link" cx="900.74" cy="548.44" rx="2.3" ry="3.0"/>
<circle class="linkc" cx="900.74" cy="548.44" r="0.8"/>
<ellipse class="link" cx="900.74" cy="554.3" rx="2.3" ry="3.0"/>
<circle class="linkc" cx="900.74" cy="554.3" r="0.8"/>
<ellipse class="link" cx="900.74" cy="560.16" rx="2.3" ry="3.0"/>
<circle class="linkc" cx="900.74" cy="560.16" r="0.8"/>
<ellipse class="link" cx="900.74" cy="566.02" rx="2.3" ry="3.0"/>
<circle class="linkc" cx="900.74" cy="566.02" r="0.8"/>
<ellipse class="link" cx="900.74" cy="571.88" rx="2.3" ry="3.0"/>
<circle class="linkc" cx="900.74" cy="571.88" r="0.8"/>
<ellipse class="link" cx="900.74" cy="577.74" rx="2.3" ry="3.0"/>
<circle class="linkc" cx="900.74" cy="577.74" r="0.8"/>
<ellipse class="link" cx="900.74" cy="583.6" rx="2.3" ry="3.0"/>
<circle class="linkc" cx="900.74" cy="583.6" r="0.8"/>
<ellipse class="link" cx="900.74" cy="589.46" rx="2.3" ry="3.0"/>
<circle class="linkc" cx="900.74" cy="589.46" r="0.8"/>
<ellipse class="link" cx="900.74" cy="595.32" rx="2.3" ry="3.0"/>
<circle class="linkc" cx="900.74" cy="595.32" r="0.8"/>
<ellipse class="link" cx="900.74" cy="601.18" rx="2.3" ry="3.0"/>
<circle class="linkc" cx="900.74" cy="601.18" r="0.8"/>
<polygon class="gt" points="906.96,515.4 910.76,515.4 909.46,522.5 908.26,522.5" />
<polygon class="gt" points="908.26,605 909.46,605 910.76,612 906.96,612" />
<ellipse class="link" cx="908.86" cy="525" rx="2.3" ry="3.0"/>
<circle class="linkc" cx="908.86" cy="525" r="0.8"/>
<ellipse class="link" cx="908.86" cy="530.86" rx="2.3" ry="3.0"/>
<circle class="linkc" cx="908.86" cy="530.86" r="0.8"/>
<ellipse class="link" cx="908.86" cy="536.72" rx="2.3" ry="3.0"/>
<circle class="linkc" cx="908.86" cy="536.72" r="0.8"/>
<ellipse class="link" cx="908.86" cy="542.58" rx="2.3" ry="3.0"/>
<circle class="linkc" cx="908.86" cy="542.58" r="0.8"/>
<ellipse class="link" cx="908.86" cy="548.44" rx="2.3" ry="3.0"/>
<circle class="linkc" cx="908.86" cy="548.44" r="0.8"/>
<ellipse class="link" cx="908.86" cy="554.3" rx="2.3" ry="3.0"/>
<circle class="linkc" cx="908.86" cy="554.3" r="0.8"/>
<ellipse class="link" cx="908.86" cy="560.16" rx="2.3" ry="3.0"/>
<circle class="linkc" cx="908.86" cy="560.16" r="0.8"/>
<ellipse class="link" cx="908.86" cy="566.02" rx="2.3" ry="3.0"/>
<circle class="linkc" cx="908.86" cy="566.02" r="0.8"/>
<ellipse class="link" cx="908.86" cy="571.88" rx="2.3" ry="3.0"/>
<circle class="linkc" cx="908.86" cy="571.88" r="0.8"/>
<ellipse class="link" cx="908.86" cy="577.74" rx="2.3" ry="3.0"/>
<circle class="linkc" cx="908.86" cy="577.74" r="0.8"/>
<ellipse class="link" cx="908.86" cy="583.6" rx="2.3" ry="3.0"/>
<circle class="linkc" cx="908.86" cy="583.6" r="0.8"/>
<ellipse class="link" cx="908.86" cy="589.46" rx="2.3" ry="3.0"/>
<circle class="linkc" cx="908.86" cy="589.46" r="0.8"/>
<ellipse class="link" cx="908.86" cy="595.32" rx="2.3" ry="3.0"/>
<circle class="linkc" cx="908.86" cy="595.32" r="0.8"/>
<ellipse class="link" cx="908.86" cy="601.18" rx="2.3" ry="3.0"/>
<circle class="linkc" cx="908.86" cy="601.18" r="0.8"/>
<polygon class="gt" points="915.08,515.4 918.88,515.4 917.58,522.5 916.38,522.5" />
<polygon class="gt" points="916.38,605 917.58,605 918.88,612 915.08,612" />
<ellipse class="link" cx="916.98" cy="525" rx="2.3" ry="3.0"/>
<circle class="linkc" cx="916.98" cy="525" r="0.8"/>
<ellipse class="link" cx="916.98" cy="530.86" rx="2.3" ry="3.0"/>
<circle class="linkc" cx="916.98" cy="530.86" r="0.8"/>
<ellipse class="link" cx="916.98" cy="536.72" rx="2.3" ry="3.0"/>
<circle class="linkc" cx="916.98" cy="536.72" r="0.8"/>
<ellipse class="link" cx="916.98" cy="542.58" rx="2.3" ry="3.0"/>
<circle class="linkc" cx="916.98" cy="542.58" r="0.8"/>
<ellipse class="link" cx="916.98" cy="548.44" rx="2.3" ry="3.0"/>
<circle class="linkc" cx="916.98" cy="548.44" r="0.8"/>
<ellipse class="link" cx="916.98" cy="554.3" rx="2.3" ry="3.0"/>
<circle class="linkc" cx="916.98" cy="554.3" r="0.8"/>
<ellipse class="link" cx="916.98" cy="560.16" rx="2.3" ry="3.0"/>
<circle class="linkc" cx="916.98" cy="560.16" r="0.8"/>
<ellipse class="link" cx="916.98" cy="566.02" rx="2.3" ry="3.0"/>
<circle class="linkc" cx="916.98" cy="566.02" r="0.8"/>
<ellipse class="link" cx="916.98" cy="571.88" rx="2.3" ry="3.0"/>
<circle class="linkc" cx="916.98" cy="571.88" r="0.8"/>
<ellipse class="link" cx="916.98" cy="577.74" rx="2.3" ry="3.0"/>
<circle class="linkc" cx="916.98" cy="577.74" r="0.8"/>
<ellipse class="link" cx="916.98" cy="583.6" rx="2.3" ry="3.0"/>
<circle class="linkc" cx="916.98" cy="583.6" r="0.8"/>
<ellipse class="link" cx="916.98" cy="589.46" rx="2.3" ry="3.0"/>
<circle class="linkc" cx="916.98" cy="589.46" r="0.8"/>
<ellipse class="link" cx="916.98" cy="595.32" rx="2.3" ry="3.0"/>
<circle class="linkc" cx="916.98" cy="595.32" r="0.8"/>
<ellipse class="link" cx="916.98" cy="601.18" rx="2.3" ry="3.0"/>
<circle class="linkc" cx="916.98" cy="601.18" r="0.8"/>
<polygon class="gt" points="923.2,515.4 927,515.4 925.7,522.5 924.5,522.5" />
<polygon class="gt" points="924.5,605 925.7,605 927,612 923.2,612" />
<ellipse class="link" cx="925.1" cy="525" rx="2.3" ry="3.0"/>
<circle class="linkc" cx="925.1" cy="525" r="0.8"/>
<ellipse class="link" cx="925.1" cy="530.86" rx="2.3" ry="3.0"/>
<circle class="linkc" cx="925.1" cy="530.86" r="0.8"/>
<ellipse class="link" cx="925.1" cy="536.72" rx="2.3" ry="3.0"/>
<circle class="linkc" cx="925.1" cy="536.72" r="0.8"/>
<ellipse class="link" cx="925.1" cy="542.58" rx="2.3" ry="3.0"/>
<circle class="linkc" cx="925.1" cy="542.58" r="0.8"/>
<ellipse class="link" cx="925.1" cy="548.44" rx="2.3" ry="3.0"/>
<circle class="linkc" cx="925.1" cy="548.44" r="0.8"/>
<ellipse class="link" cx="925.1" cy="554.3" rx="2.3" ry="3.0"/>
<circle class="linkc" cx="925.1" cy="554.3" r="0.8"/>
<ellipse class="link" cx="925.1" cy="560.16" rx="2.3" ry="3.0"/>
<circle class="linkc" cx="925.1" cy="560.16" r="0.8"/>
<ellipse class="link" cx="925.1" cy="566.02" rx="2.3" ry="3.0"/>
<circle class="linkc" cx="925.1" cy="566.02" r="0.8"/>
<ellipse class="link" cx="925.1" cy="571.88" rx="2.3" ry="3.0"/>
<circle class="linkc" cx="925.1" cy="571.88" r="0.8"/>
<ellipse class="link" cx="925.1" cy="577.74" rx="2.3" ry="3.0"/>
<circle class="linkc" cx="925.1" cy="577.74" r="0.8"/>
<ellipse class="link" cx="925.1" cy="583.6" rx="2.3" ry="3.0"/>
<circle class="linkc" cx="925.1" cy="583.6" r="0.8"/>
<ellipse class="link" cx="925.1" cy="589.46" rx="2.3" ry="3.0"/>
<circle class="linkc" cx="925.1" cy="589.46" r="0.8"/>
<ellipse class="link" cx="925.1" cy="595.32" rx="2.3" ry="3.0"/>
<circle class="linkc" cx="925.1" cy="595.32" r="0.8"/>
<ellipse class="link" cx="925.1" cy="601.18" rx="2.3" ry="3.0"/>
<circle class="linkc" cx="925.1" cy="601.18" r="0.8"/>
<polygon class="gt" points="931.32,515.4 935.12,515.4 933.82,522.5 932.62,522.5" />
<polygon class="gt" points="932.62,605 933.82,605 935.12,612 931.32,612" />
<ellipse class="link" cx="933.22" cy="525" rx="2.3" ry="3.0"/>
<circle class="linkc" cx="933.22" cy="525" r="0.8"/>
<ellipse class="link" cx="933.22" cy="530.86" rx="2.3" ry="3.0"/>
<circle class="linkc" cx="933.22" cy="530.86" r="0.8"/>
<ellipse class="link" cx="933.22" cy="536.72" rx="2.3" ry="3.0"/>
<circle class="linkc" cx="933.22" cy="536.72" r="0.8"/>
<ellipse class="link" cx="933.22" cy="542.58" rx="2.3" ry="3.0"/>
<circle class="linkc" cx="933.22" cy="542.58" r="0.8"/>
<ellipse class="link" cx="933.22" cy="548.44" rx="2.3" ry="3.0"/>
<circle class="linkc" cx="933.22" cy="548.44" r="0.8"/>
<ellipse class="link" cx="933.22" cy="554.3" rx="2.3" ry="3.0"/>
<circle class="linkc" cx="933.22" cy="554.3" r="0.8"/>
<ellipse class="link" cx="933.22" cy="560.16" rx="2.3" ry="3.0"/>
<circle class="linkc" cx="933.22" cy="560.16" r="0.8"/>
<ellipse class="link" cx="933.22" cy="566.02" rx="2.3" ry="3.0"/>
<circle class="linkc" cx="933.22" cy="566.02" r="0.8"/>
<ellipse class="link" cx="933.22" cy="571.88" rx="2.3" ry="3.0"/>
<circle class="linkc" cx="933.22" cy="571.88" r="0.8"/>
<ellipse class="link" cx="933.22" cy="577.74" rx="2.3" ry="3.0"/>
<circle class="linkc" cx="933.22" cy="577.74" r="0.8"/>
<ellipse class="link" cx="933.22" cy="583.6" rx="2.3" ry="3.0"/>
<circle class="linkc" cx="933.22" cy="583.6" r="0.8"/>
<ellipse class="link" cx="933.22" cy="589.46" rx="2.3" ry="3.0"/>
<circle class="linkc" cx="933.22" cy="589.46" r="0.8"/>
<ellipse class="link" cx="933.22" cy="595.32" rx="2.3" ry="3.0"/>
<circle class="linkc" cx="933.22" cy="595.32" r="0.8"/>
<ellipse class="link" cx="933.22" cy="601.18" rx="2.3" ry="3.0"/>
<circle class="linkc" cx="933.22" cy="601.18" r="0.8"/>
<polygon class="gt" points="939.44,515.4 943.24,515.4 941.94,522.5 940.74,522.5" />
<polygon class="gt" points="940.74,605 941.94,605 943.24,612 939.44,612" />
<ellipse class="link" cx="941.34" cy="525" rx="2.3" ry="3.0"/>
<circle class="linkc" cx="941.34" cy="525" r="0.8"/>
<ellipse class="link" cx="941.34" cy="530.86" rx="2.3" ry="3.0"/>
<circle class="linkc" cx="941.34" cy="530.86" r="0.8"/>
<ellipse class="link" cx="941.34" cy="536.72" rx="2.3" ry="3.0"/>
<circle class="linkc" cx="941.34" cy="536.72" r="0.8"/>
<ellipse class="link" cx="941.34" cy="542.58" rx="2.3" ry="3.0"/>
<circle class="linkc" cx="941.34" cy="542.58" r="0.8"/>
<ellipse class="link" cx="941.34" cy="548.44" rx="2.3" ry="3.0"/>
<circle class="linkc" cx="941.34" cy="548.44" r="0.8"/>
<ellipse class="link" cx="941.34" cy="554.3" rx="2.3" ry="3.0"/>
<circle class="linkc" cx="941.34" cy="554.3" r="0.8"/>
<ellipse class="link" cx="941.34" cy="560.16" rx="2.3" ry="3.0"/>
<circle class="linkc" cx="941.34" cy="560.16" r="0.8"/>
<ellipse class="link" cx="941.34" cy="566.02" rx="2.3" ry="3.0"/>
<circle class="linkc" cx="941.34" cy="566.02" r="0.8"/>
<ellipse class="link" cx="941.34" cy="571.88" rx="2.3" ry="3.0"/>
<circle class="linkc" cx="941.34" cy="571.88" r="0.8"/>
<ellipse class="link" cx="941.34" cy="577.74" rx="2.3" ry="3.0"/>
<circle class="linkc" cx="941.34" cy="577.74" r="0.8"/>
<ellipse class="link" cx="941.34" cy="583.6" rx="2.3" ry="3.0"/>
<circle class="linkc" cx="941.34" cy="583.6" r="0.8"/>
<ellipse class="link" cx="941.34" cy="589.46" rx="2.3" ry="3.0"/>
<circle class="linkc" cx="941.34" cy="589.46" r="0.8"/>
<ellipse class="link" cx="941.34" cy="595.32" rx="2.3" ry="3.0"/>
<circle class="linkc" cx="941.34" cy="595.32" r="0.8"/>
<ellipse class="link" cx="941.34" cy="601.18" rx="2.3" ry="3.0"/>
<circle class="linkc" cx="941.34" cy="601.18" r="0.8"/>
<polygon class="gt" points="947.56,515.4 951.36,515.4 950.06,522.5 948.86,522.5" />
<polygon class="gt" points="948.86,605 950.06,605 951.36,612 947.56,612" />
<ellipse class="link" cx="949.46" cy="525" rx="2.3" ry="3.0"/>
<circle class="linkc" cx="949.46" cy="525" r="0.8"/>
<ellipse class="link" cx="949.46" cy="530.86" rx="2.3" ry="3.0"/>
<circle class="linkc" cx="949.46" cy="530.86" r="0.8"/>
<ellipse class="link" cx="949.46" cy="536.72" rx="2.3" ry="3.0"/>
<circle class="linkc" cx="949.46" cy="536.72" r="0.8"/>
<ellipse class="link" cx="949.46" cy="542.58" rx="2.3" ry="3.0"/>
<circle class="linkc" cx="949.46" cy="542.58" r="0.8"/>
<ellipse class="link" cx="949.46" cy="548.44" rx="2.3" ry="3.0"/>
<circle class="linkc" cx="949.46" cy="548.44" r="0.8"/>
<ellipse class="link" cx="949.46" cy="554.3" rx="2.3" ry="3.0"/>
<circle class="linkc" cx="949.46" cy="554.3" r="0.8"/>
<ellipse class="link" cx="949.46" cy="560.16" rx="2.3" ry="3.0"/>
<circle class="linkc" cx="949.46" cy="560.16" r="0.8"/>
<ellipse class="link" cx="949.46" cy="566.02" rx="2.3" ry="3.0"/>
<circle class="linkc" cx="949.46" cy="566.02" r="0.8"/>
<ellipse class="link" cx="949.46" cy="571.88" rx="2.3" ry="3.0"/>
<circle class="linkc" cx="949.46" cy="571.88" r="0.8"/>
<ellipse class="link" cx="949.46" cy="577.74" rx="2.3" ry="3.0"/>
<circle class="linkc" cx="949.46" cy="577.74" r="0.8"/>
<ellipse class="link" cx="949.46" cy="583.6" rx="2.3" ry="3.0"/>
<circle class="linkc" cx="949.46" cy="583.6" r="0.8"/>
<ellipse class="link" cx="949.46" cy="589.46" rx="2.3" ry="3.0"/>
<circle class="linkc" cx="949.46" cy="589.46" r="0.8"/>
<ellipse class="link" cx="949.46" cy="595.32" rx="2.3" ry="3.0"/>
<circle class="linkc" cx="949.46" cy="595.32" r="0.8"/>
<ellipse class="link" cx="949.46" cy="601.18" rx="2.3" ry="3.0"/>
<circle class="linkc" cx="949.46" cy="601.18" r="0.8"/>
<polygon class="gt" points="955.68,515.4 959.48,515.4 958.18,522.5 956.98,522.5" />
<polygon class="gt" points="956.98,605 958.18,605 959.48,612 955.68,612" />
<ellipse class="link" cx="957.58" cy="525" rx="2.3" ry="3.0"/>
<circle class="linkc" cx="957.58" cy="525" r="0.8"/>
<ellipse class="link" cx="957.58" cy="530.86" rx="2.3" ry="3.0"/>
<circle class="linkc" cx="957.58" cy="530.86" r="0.8"/>
<ellipse class="link" cx="957.58" cy="536.72" rx="2.3" ry="3.0"/>
<circle class="linkc" cx="957.58" cy="536.72" r="0.8"/>
<ellipse class="link" cx="957.58" cy="542.58" rx="2.3" ry="3.0"/>
<circle class="linkc" cx="957.58" cy="542.58" r="0.8"/>
<ellipse class="link" cx="957.58" cy="548.44" rx="2.3" ry="3.0"/>
<circle class="linkc" cx="957.58" cy="548.44" r="0.8"/>
<ellipse class="link" cx="957.58" cy="554.3" rx="2.3" ry="3.0"/>
<circle class="linkc" cx="957.58" cy="554.3" r="0.8"/>
<ellipse class="link" cx="957.58" cy="560.16" rx="2.3" ry="3.0"/>
<circle class="linkc" cx="957.58" cy="560.16" r="0.8"/>
<ellipse class="link" cx="957.58" cy="566.02" rx="2.3" ry="3.0"/>
<circle class="linkc" cx="957.58" cy="566.02" r="0.8"/>
<ellipse class="link" cx="957.58" cy="571.88" rx="2.3" ry="3.0"/>
<circle class="linkc" cx="957.58" cy="571.88" r="0.8"/>
<ellipse class="link" cx="957.58" cy="577.74" rx="2.3" ry="3.0"/>
<circle class="linkc" cx="957.58" cy="577.74" r="0.8"/>
<ellipse class="link" cx="957.58" cy="583.6" rx="2.3" ry="3.0"/>
<circle class="linkc" cx="957.58" cy="583.6" r="0.8"/>
<ellipse class="link" cx="957.58" cy="589.46" rx="2.3" ry="3.0"/>
<circle class="linkc" cx="957.58" cy="589.46" r="0.8"/>
<ellipse class="link" cx="957.58" cy="595.32" rx="2.3" ry="3.0"/>
<circle class="linkc" cx="957.58" cy="595.32" r="0.8"/>
<ellipse class="link" cx="957.58" cy="601.18" rx="2.3" ry="3.0"/>
<circle class="linkc" cx="957.58" cy="601.18" r="0.8"/>
<g style="will-change:transform">
<text x="33.4" y="27" font-size="21.5" font-weight="bold" textLength="65.3" lengthAdjust="spacingAndGlyphs">36 501</text>
<text x="114" y="27" font-size="21.5" font-weight="bold" textLength="58" lengthAdjust="spacingAndGlyphs">M3A4</text>
<text x="187.4" y="27" font-size="21.5" font-weight="bold" textLength="41.1" lengthAdjust="spacingAndGlyphs">1/35</text>
<text x="32.7" y="632.7" font-size="18" textLength="148.4" lengthAdjust="spacingAndGlyphs">&#169; EDUARD 2023</text>
<text x="758.7" y="632.7" font-size="17.5" textLength="207.5" lengthAdjust="spacingAndGlyphs">Made in Czech Republic</text>
<text x="878.5" y="26.4" font-size="20.5" font-weight="bold" textLength="86.5" lengthAdjust="spacingAndGlyphs" style="font-family:'Liberation Serif',serif;stroke:#1e1e1e;stroke-width:1.0">eduard</text>
<text transform="translate(63.5 123.5) scale(0.82 1)" font-size="16.5" text-anchor="middle">1</text>
<text transform="translate(54.5 177.5) scale(0.82 1)" font-size="16.5" text-anchor="middle">2</text>
<text transform="translate(937 123.5) scale(0.82 1)" font-size="16.5" text-anchor="middle">1</text>
<text transform="translate(945.5 177.5) scale(0.82 1)" font-size="16.5" text-anchor="middle">2</text>
<text transform="translate(407 176) scale(0.82 1)" font-size="16.5" text-anchor="middle">3</text>
<text transform="translate(593 176) scale(0.82 1)" font-size="16.5" text-anchor="middle">4</text>
<text transform="translate(501 96) scale(0.82 1)" font-size="16.5" text-anchor="middle">5</text>
<text transform="translate(501 203.5) scale(0.82 1)" font-size="16.5" text-anchor="middle">6</text>
<text transform="translate(77.7 316) scale(0.82 1)" font-size="16.5" text-anchor="middle">7</text>
<text transform="translate(69.3 507.5) scale(0.82 1)" font-size="16.5" text-anchor="middle">8</text>
<text transform="translate(141 507.5) scale(0.82 1)" font-size="16.5" text-anchor="middle">9</text>
<text transform="translate(234 437.5) scale(0.82 1)" font-size="16.5" text-anchor="middle">10</text>
<text transform="translate(370.3 461.5) scale(0.82 1)" font-size="16.5" text-anchor="middle">11</text>
<text transform="translate(177 535.5) scale(0.82 1)" font-size="16.5" text-anchor="middle">12</text>
<text transform="translate(394 412.5) scale(0.82 1)" font-size="16.5" text-anchor="middle">13</text>
<text transform="translate(605.5 412.5) scale(0.82 1)" font-size="16.5" text-anchor="middle">13</text>
<text transform="translate(570 354) scale(0.82 1)" font-size="16.5" text-anchor="middle">14</text>
<text transform="translate(499.4 627.5) scale(0.82 1)" font-size="16.5" text-anchor="middle">15</text>
<text transform="translate(584.7 467) scale(0.82 1)" font-size="16.5" text-anchor="middle">16</text>
<text transform="translate(584.7 515.5) scale(0.82 1)" font-size="16.5" text-anchor="middle">17</text>
<text transform="translate(679 458) scale(0.82 1)" font-size="16.5" text-anchor="middle">18</text>
<text transform="translate(679 563.5) scale(0.82 1)" font-size="16.5" text-anchor="middle">19</text>
<text transform="translate(757.7 483) scale(0.82 1)" font-size="16.5" text-anchor="middle">20</text>
<text transform="translate(754.9 579) scale(0.82 1)" font-size="16.5" text-anchor="middle">21</text>
<text transform="translate(809.5 472.5) scale(0.82 1)" font-size="16.5" text-anchor="middle">22</text>
<text transform="translate(836 510.5) scale(0.82 1)" font-size="16.5" text-anchor="middle">23</text>
<text transform="translate(948.3 297.5) scale(0.82 1)" font-size="16.5" text-anchor="middle">24</text>
<text transform="translate(868.7 488) scale(0.82 1)" font-size="16.5" text-anchor="middle">25</text>
<text transform="translate(899.3 488) scale(0.82 1)" font-size="16.5" text-anchor="middle">26</text>
<text transform="translate(942.6 488) scale(0.82 1)" font-size="16.5" text-anchor="middle">27</text>
<text transform="translate(920.3 510.5) scale(0.82 1)" font-size="16.5" text-anchor="middle">28</text>
</g>
</svg></body></html>
